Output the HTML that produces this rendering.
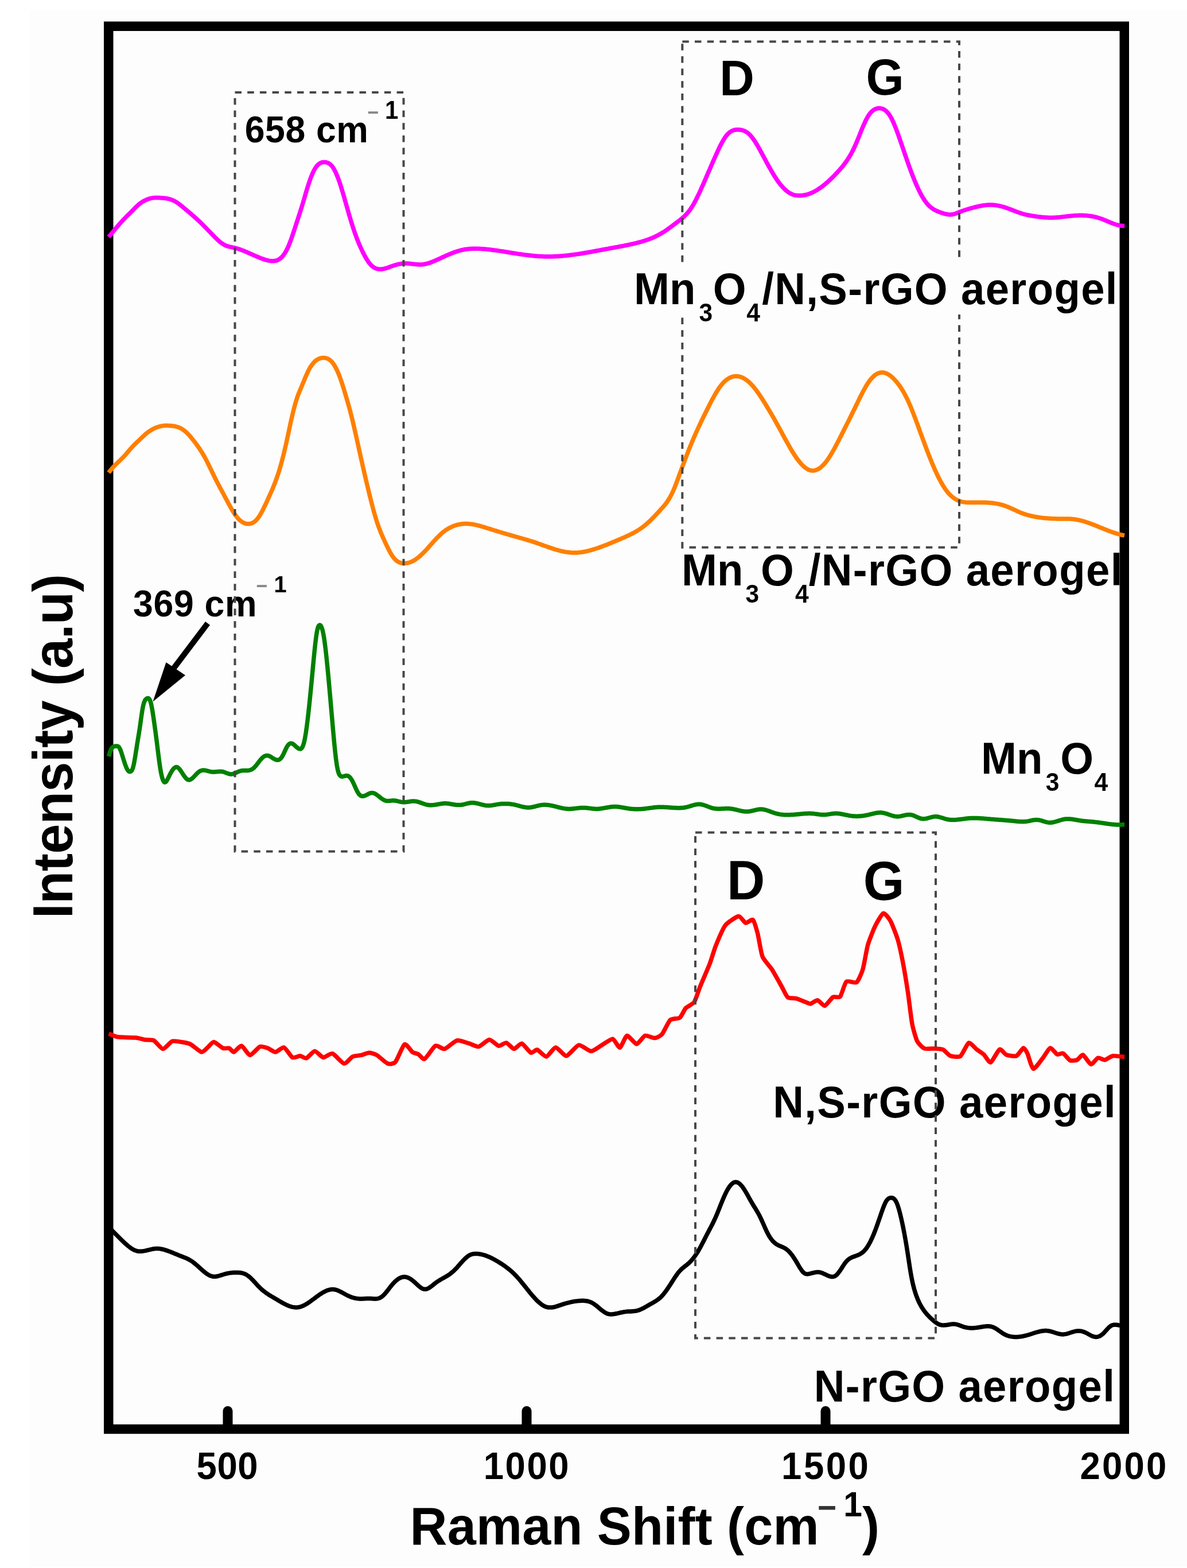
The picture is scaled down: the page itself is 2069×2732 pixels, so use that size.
<!DOCTYPE html>
<html><head><meta charset="utf-8"><title>Raman spectra</title>
<style>html,body{margin:0;padding:0;background:#fff;}svg{display:block;}text{font-family:'Liberation Sans',Arial,Helvetica,sans-serif;font-weight:bold}</style>
</head><body>
<svg width="2069" height="2732" viewBox="0 0 2069 2732">
<rect x="0" y="0" width="2069" height="2732" fill="#ffffff"/>
<rect x="51" y="18" width="2018" height="2712" fill="#fdfdfd"/>
<rect x="189.25" y="45.75" width="1770.5" height="2444.25" fill="none" stroke="#000" stroke-width="16.5" stroke-linejoin="miter"/>
<line x1="397" y1="2485" x2="397" y2="2458.5" stroke="#000" stroke-width="17" stroke-linecap="round"/>
<line x1="918" y1="2485" x2="918" y2="2458.5" stroke="#000" stroke-width="17" stroke-linecap="round"/>
<line x1="1439" y1="2485" x2="1439" y2="2458.5" stroke="#000" stroke-width="17" stroke-linecap="round"/>
<path d="M189.5,413.0 L191.0,411.1 L192.5,409.2 L194.0,407.4 L195.5,405.5 L197.0,403.7 L198.5,401.9 L200.0,400.0 L201.5,398.2 L203.0,396.5 L204.5,394.7 L206.0,393.0 L207.5,391.2 L209.0,389.5 L210.5,387.8 L212.0,386.2 L213.5,384.5 L215.0,382.9 L216.5,381.3 L218.0,379.8 L219.5,378.3 L221.0,376.7 L222.5,375.2 L224.0,373.8 L225.5,372.3 L227.0,370.8 L228.5,369.3 L230.0,367.8 L231.5,366.3 L233.0,364.8 L234.5,363.2 L236.0,361.7 L237.5,360.3 L239.0,358.8 L240.5,357.5 L242.0,356.2 L243.5,355.0 L245.0,353.8 L246.5,352.8 L248.0,351.8 L249.5,350.9 L251.0,350.1 L252.5,349.3 L254.0,348.6 L255.5,347.9 L257.0,347.3 L258.5,346.7 L260.0,346.2 L261.5,345.8 L263.0,345.4 L264.5,345.1 L266.0,344.9 L267.5,344.7 L269.0,344.6 L270.5,344.5 L272.0,344.5 L273.5,344.5 L275.0,344.5 L276.5,344.5 L278.0,344.6 L279.5,344.7 L281.0,344.8 L282.5,344.9 L284.0,345.0 L285.5,345.1 L287.0,345.3 L288.5,345.5 L290.0,345.7 L291.5,346.0 L293.0,346.3 L294.5,346.7 L296.0,347.1 L297.5,347.5 L299.0,348.1 L300.5,348.6 L302.0,349.3 L303.5,350.0 L305.0,350.8 L306.5,351.6 L308.0,352.6 L309.5,353.6 L311.0,354.6 L312.5,355.8 L314.0,356.9 L315.5,358.1 L317.0,359.3 L318.5,360.6 L320.0,361.8 L321.5,363.1 L323.0,364.3 L324.5,365.6 L326.0,366.9 L327.5,368.1 L329.0,369.4 L330.5,370.6 L332.0,371.9 L333.5,373.2 L335.0,374.5 L336.5,375.8 L338.0,377.1 L339.5,378.4 L341.0,379.8 L342.5,381.1 L344.0,382.5 L345.5,383.9 L347.0,385.3 L348.5,386.7 L350.0,388.2 L351.5,389.6 L353.0,391.1 L354.5,392.6 L356.0,394.1 L357.5,395.7 L359.0,397.2 L360.5,398.7 L362.0,400.3 L363.5,401.8 L365.0,403.4 L366.5,404.9 L368.0,406.5 L369.5,408.0 L371.0,409.6 L372.5,411.1 L374.0,412.7 L375.5,414.2 L377.0,415.6 L378.5,417.0 L380.0,418.4 L381.5,419.8 L383.0,421.0 L384.5,422.3 L386.0,423.4 L387.5,424.4 L389.0,425.4 L390.5,426.3 L392.0,427.1 L393.5,427.8 L395.0,428.4 L396.5,428.9 L398.0,429.4 L399.5,429.8 L401.0,430.1 L402.5,430.4 L404.0,430.8 L405.5,431.1 L407.0,431.4 L408.5,431.7 L410.0,432.1 L411.5,432.5 L413.0,432.9 L414.5,433.3 L416.0,433.8 L417.5,434.3 L419.0,434.8 L420.5,435.4 L422.0,436.0 L423.5,436.5 L425.0,437.1 L426.5,437.8 L428.0,438.4 L429.5,439.0 L431.0,439.7 L432.5,440.3 L434.0,441.0 L435.5,441.6 L437.0,442.3 L438.5,443.0 L440.0,443.6 L441.5,444.3 L443.0,445.0 L444.5,445.6 L446.0,446.3 L447.5,446.9 L449.0,447.5 L450.5,448.2 L452.0,448.8 L453.5,449.4 L455.0,450.0 L456.5,450.5 L458.0,451.1 L459.5,451.6 L461.0,452.1 L462.5,452.6 L464.0,453.0 L465.5,453.4 L467.0,453.8 L468.5,454.1 L470.0,454.4 L471.5,454.6 L473.0,454.7 L474.5,454.8 L476.0,454.8 L477.5,454.7 L479.0,454.5 L480.5,454.3 L482.0,453.9 L483.5,453.3 L485.0,452.6 L486.5,451.8 L488.0,450.7 L489.5,449.5 L491.0,448.1 L492.5,446.5 L494.0,444.6 L495.5,442.6 L497.0,440.2 L498.5,437.7 L500.0,434.8 L501.5,431.7 L503.0,428.4 L504.5,424.7 L506.0,420.8 L507.5,416.7 L509.0,412.4 L510.5,408.0 L512.0,403.5 L513.5,398.9 L515.0,394.3 L516.5,389.7 L518.0,385.2 L519.5,380.6 L521.0,376.0 L522.5,371.4 L524.0,366.7 L525.5,361.9 L527.0,357.0 L528.5,352.0 L530.0,346.9 L531.5,341.7 L533.0,336.6 L534.5,331.6 L536.0,326.6 L537.5,321.9 L539.0,317.3 L540.5,313.0 L542.0,309.0 L543.5,305.2 L545.0,301.7 L546.5,298.5 L548.0,295.6 L549.5,293.0 L551.0,290.8 L552.5,288.9 L554.0,287.3 L555.5,285.9 L557.0,284.8 L558.5,284.0 L560.0,283.4 L561.5,282.9 L563.0,282.7 L564.5,282.6 L566.0,282.6 L567.5,282.7 L569.0,283.0 L570.5,283.4 L572.0,284.0 L573.5,284.8 L575.0,285.8 L576.5,287.1 L578.0,288.7 L579.5,290.5 L581.0,292.7 L582.5,295.2 L584.0,298.1 L585.5,301.2 L587.0,304.7 L588.5,308.4 L590.0,312.4 L591.5,316.6 L593.0,321.0 L594.5,325.7 L596.0,330.6 L597.5,335.6 L599.0,340.7 L600.5,345.9 L602.0,351.2 L603.5,356.5 L605.0,361.8 L606.5,367.1 L608.0,372.3 L609.5,377.4 L611.0,382.5 L612.5,387.4 L614.0,392.2 L615.5,396.9 L617.0,401.4 L618.5,405.8 L620.0,409.9 L621.5,414.0 L623.0,417.9 L624.5,421.6 L626.0,425.2 L627.5,428.7 L629.0,432.0 L630.5,435.3 L632.0,438.4 L633.5,441.5 L635.0,444.4 L636.5,447.1 L638.0,449.8 L639.5,452.2 L641.0,454.6 L642.5,456.7 L644.0,458.7 L645.5,460.5 L647.0,462.1 L648.5,463.5 L650.0,464.7 L651.5,465.8 L653.0,466.7 L654.5,467.4 L656.0,468.0 L657.5,468.4 L659.0,468.8 L660.5,469.0 L662.0,469.1 L663.5,469.1 L665.0,469.0 L666.5,468.8 L668.0,468.6 L669.5,468.2 L671.0,467.9 L672.5,467.4 L674.0,467.0 L675.5,466.5 L677.0,466.0 L678.5,465.4 L680.0,464.9 L681.5,464.3 L683.0,463.8 L684.5,463.3 L686.0,462.8 L687.5,462.3 L689.0,461.8 L690.5,461.4 L692.0,461.0 L693.5,460.6 L695.0,460.3 L696.5,459.9 L698.0,459.7 L699.5,459.4 L701.0,459.2 L702.5,459.1 L704.0,459.0 L705.5,458.9 L707.0,458.9 L708.5,459.0 L710.0,459.0 L711.5,459.1 L713.0,459.2 L714.5,459.4 L716.0,459.5 L717.5,459.7 L719.0,459.9 L720.5,460.1 L722.0,460.2 L723.5,460.4 L725.0,460.5 L726.5,460.7 L728.0,460.8 L729.5,460.8 L731.0,460.9 L732.5,460.9 L734.0,460.9 L735.5,460.8 L737.0,460.7 L738.5,460.5 L740.0,460.2 L741.5,460.0 L743.0,459.6 L744.5,459.2 L746.0,458.8 L747.5,458.4 L749.0,457.9 L750.5,457.4 L752.0,456.8 L753.5,456.2 L755.0,455.6 L756.5,455.0 L758.0,454.4 L759.5,453.7 L761.0,453.0 L762.5,452.4 L764.0,451.7 L765.5,451.0 L767.0,450.3 L768.5,449.6 L770.0,448.9 L771.5,448.2 L773.0,447.5 L774.5,446.8 L776.0,446.1 L777.5,445.5 L779.0,444.8 L780.5,444.2 L782.0,443.5 L783.5,442.9 L785.0,442.3 L786.5,441.7 L788.0,441.1 L789.5,440.5 L791.0,439.9 L792.5,439.4 L794.0,438.9 L795.5,438.4 L797.0,437.9 L798.5,437.4 L800.0,437.0 L801.5,436.5 L803.0,436.1 L804.5,435.8 L806.0,435.4 L807.5,435.1 L809.0,434.8 L810.5,434.5 L812.0,434.3 L813.5,434.1 L815.0,433.9 L816.5,433.8 L818.0,433.6 L819.5,433.5 L821.0,433.4 L822.5,433.3 L824.0,433.3 L825.5,433.2 L827.0,433.2 L828.5,433.2 L830.0,433.2 L831.5,433.2 L833.0,433.3 L834.5,433.3 L836.0,433.4 L837.5,433.5 L839.0,433.6 L840.5,433.7 L842.0,433.8 L843.5,433.9 L845.0,434.0 L846.5,434.1 L848.0,434.3 L849.5,434.4 L851.0,434.6 L852.5,434.7 L854.0,434.9 L855.5,435.1 L857.0,435.3 L858.5,435.5 L860.0,435.7 L861.5,435.9 L863.0,436.1 L864.5,436.3 L866.0,436.5 L867.5,436.7 L869.0,436.9 L870.5,437.1 L872.0,437.4 L873.5,437.6 L875.0,437.8 L876.5,438.1 L878.0,438.3 L879.5,438.6 L881.0,438.8 L882.5,439.0 L884.0,439.3 L885.5,439.5 L887.0,439.8 L888.5,440.0 L890.0,440.2 L891.5,440.5 L893.0,440.7 L894.5,441.0 L896.0,441.2 L897.5,441.4 L899.0,441.7 L900.5,441.9 L902.0,442.1 L903.5,442.4 L905.0,442.6 L906.5,442.8 L908.0,443.0 L909.5,443.3 L911.0,443.5 L912.5,443.7 L914.0,443.9 L915.5,444.1 L917.0,444.3 L918.5,444.5 L920.0,444.6 L921.5,444.8 L923.0,445.0 L924.5,445.2 L926.0,445.3 L927.5,445.5 L929.0,445.6 L930.5,445.8 L932.0,445.9 L933.5,446.0 L935.0,446.2 L936.5,446.3 L938.0,446.4 L939.5,446.5 L941.0,446.6 L942.5,446.6 L944.0,446.7 L945.5,446.8 L947.0,446.8 L948.5,446.9 L950.0,446.9 L951.5,447.0 L953.0,447.0 L954.5,447.0 L956.0,447.0 L957.5,447.0 L959.0,447.0 L960.5,447.0 L962.0,446.9 L963.5,446.9 L965.0,446.8 L966.5,446.8 L968.0,446.7 L969.5,446.6 L971.0,446.6 L972.5,446.5 L974.0,446.4 L975.5,446.3 L977.0,446.2 L978.5,446.0 L980.0,445.9 L981.5,445.8 L983.0,445.6 L984.5,445.5 L986.0,445.4 L987.5,445.2 L989.0,445.0 L990.5,444.9 L992.0,444.7 L993.5,444.5 L995.0,444.3 L996.5,444.1 L998.0,443.9 L999.5,443.7 L1001.0,443.5 L1002.5,443.3 L1004.0,443.1 L1005.5,442.9 L1007.0,442.7 L1008.5,442.4 L1010.0,442.2 L1011.5,442.0 L1013.0,441.7 L1014.5,441.5 L1016.0,441.2 L1017.5,441.0 L1019.0,440.8 L1020.5,440.5 L1022.0,440.2 L1023.5,440.0 L1025.0,439.7 L1026.5,439.5 L1028.0,439.2 L1029.5,438.9 L1031.0,438.7 L1032.5,438.4 L1034.0,438.1 L1035.5,437.8 L1037.0,437.6 L1038.5,437.3 L1040.0,437.0 L1041.5,436.7 L1043.0,436.4 L1044.5,436.2 L1046.0,435.9 L1047.5,435.6 L1049.0,435.3 L1050.5,435.0 L1052.0,434.8 L1053.5,434.5 L1055.0,434.2 L1056.5,433.9 L1058.0,433.6 L1059.5,433.4 L1061.0,433.1 L1062.5,432.8 L1064.0,432.5 L1065.5,432.3 L1067.0,432.0 L1068.5,431.7 L1070.0,431.5 L1071.5,431.2 L1073.0,430.9 L1074.5,430.6 L1076.0,430.4 L1077.5,430.1 L1079.0,429.8 L1080.5,429.5 L1082.0,429.3 L1083.5,429.0 L1085.0,428.7 L1086.5,428.4 L1088.0,428.1 L1089.5,427.8 L1091.0,427.5 L1092.5,427.2 L1094.0,426.9 L1095.5,426.6 L1097.0,426.3 L1098.5,425.9 L1100.0,425.6 L1101.5,425.3 L1103.0,424.9 L1104.5,424.6 L1106.0,424.2 L1107.5,423.9 L1109.0,423.5 L1110.5,423.1 L1112.0,422.7 L1113.5,422.3 L1115.0,421.9 L1116.5,421.5 L1118.0,421.1 L1119.5,420.7 L1121.0,420.2 L1122.5,419.8 L1124.0,419.3 L1125.5,418.8 L1127.0,418.3 L1128.5,417.8 L1130.0,417.2 L1131.5,416.7 L1133.0,416.1 L1134.5,415.5 L1136.0,414.9 L1137.5,414.3 L1139.0,413.6 L1140.5,412.9 L1142.0,412.3 L1143.5,411.5 L1145.0,410.8 L1146.5,410.0 L1148.0,409.2 L1149.5,408.4 L1151.0,407.6 L1152.5,406.7 L1154.0,405.8 L1155.5,404.9 L1157.0,404.0 L1158.5,403.0 L1160.0,402.0 L1161.5,401.0 L1163.0,399.9 L1164.5,398.9 L1166.0,397.8 L1167.5,396.7 L1169.0,395.6 L1170.5,394.5 L1172.0,393.4 L1173.5,392.2 L1175.0,391.1 L1176.5,390.0 L1178.0,388.8 L1179.5,387.7 L1181.0,386.5 L1182.5,385.4 L1184.0,384.3 L1185.5,383.1 L1187.0,381.9 L1188.5,380.7 L1190.0,379.4 L1191.5,378.1 L1193.0,376.7 L1194.5,375.2 L1196.0,373.7 L1197.5,372.0 L1199.0,370.3 L1200.5,368.4 L1202.0,366.5 L1203.5,364.4 L1205.0,362.2 L1206.5,359.8 L1208.0,357.4 L1209.5,354.8 L1211.0,352.0 L1212.5,349.2 L1214.0,346.3 L1215.5,343.3 L1217.0,340.2 L1218.5,337.0 L1220.0,333.8 L1221.5,330.5 L1223.0,327.1 L1224.5,323.8 L1226.0,320.4 L1227.5,316.9 L1229.0,313.5 L1230.5,310.0 L1232.0,306.6 L1233.5,303.1 L1235.0,299.6 L1236.5,296.2 L1238.0,292.7 L1239.5,289.2 L1241.0,285.8 L1242.5,282.3 L1244.0,278.9 L1245.5,275.5 L1247.0,272.2 L1248.5,268.9 L1250.0,265.6 L1251.5,262.3 L1253.0,259.1 L1254.5,256.0 L1256.0,253.0 L1257.5,250.1 L1259.0,247.4 L1260.5,244.7 L1262.0,242.2 L1263.5,239.9 L1265.0,237.8 L1266.5,235.8 L1268.0,234.1 L1269.5,232.5 L1271.0,231.2 L1272.5,230.0 L1274.0,229.0 L1275.5,228.2 L1277.0,227.5 L1278.5,227.0 L1280.0,226.5 L1281.5,226.2 L1283.0,226.0 L1284.5,225.9 L1286.0,225.9 L1287.5,225.9 L1289.0,226.0 L1290.5,226.2 L1292.0,226.4 L1293.5,226.8 L1295.0,227.2 L1296.5,227.7 L1298.0,228.4 L1299.5,229.1 L1301.0,230.0 L1302.5,231.0 L1304.0,232.2 L1305.5,233.4 L1307.0,234.9 L1308.5,236.5 L1310.0,238.3 L1311.5,240.2 L1313.0,242.2 L1314.5,244.3 L1316.0,246.6 L1317.5,249.0 L1319.0,251.4 L1320.5,254.0 L1322.0,256.6 L1323.5,259.2 L1325.0,261.9 L1326.5,264.7 L1328.0,267.4 L1329.5,270.2 L1331.0,273.0 L1332.5,275.8 L1334.0,278.6 L1335.5,281.4 L1337.0,284.2 L1338.5,286.9 L1340.0,289.6 L1341.5,292.3 L1343.0,295.0 L1344.5,297.6 L1346.0,300.2 L1347.5,302.7 L1349.0,305.2 L1350.5,307.6 L1352.0,309.9 L1353.5,312.2 L1355.0,314.4 L1356.5,316.5 L1358.0,318.5 L1359.5,320.5 L1361.0,322.3 L1362.5,324.1 L1364.0,325.8 L1365.5,327.4 L1367.0,328.9 L1368.5,330.4 L1370.0,331.7 L1371.5,332.9 L1373.0,334.1 L1374.5,335.2 L1376.0,336.1 L1377.5,337.0 L1379.0,337.7 L1380.5,338.4 L1382.0,339.0 L1383.5,339.5 L1385.0,339.9 L1386.5,340.2 L1388.0,340.4 L1389.5,340.6 L1391.0,340.7 L1392.5,340.8 L1394.0,340.8 L1395.5,340.8 L1397.0,340.7 L1398.5,340.5 L1400.0,340.3 L1401.5,340.1 L1403.0,339.8 L1404.5,339.5 L1406.0,339.1 L1407.5,338.7 L1409.0,338.2 L1410.5,337.7 L1412.0,337.1 L1413.5,336.5 L1415.0,335.9 L1416.5,335.2 L1418.0,334.5 L1419.5,333.7 L1421.0,332.9 L1422.5,332.0 L1424.0,331.1 L1425.5,330.2 L1427.0,329.2 L1428.5,328.2 L1430.0,327.2 L1431.5,326.1 L1433.0,325.0 L1434.5,323.8 L1436.0,322.6 L1437.5,321.4 L1439.0,320.2 L1440.5,318.9 L1442.0,317.6 L1443.5,316.2 L1445.0,314.8 L1446.5,313.4 L1448.0,312.0 L1449.5,310.6 L1451.0,309.1 L1452.5,307.6 L1454.0,306.1 L1455.5,304.5 L1457.0,302.9 L1458.5,301.4 L1460.0,299.8 L1461.5,298.1 L1463.0,296.5 L1464.5,294.8 L1466.0,293.1 L1467.5,291.3 L1469.0,289.5 L1470.5,287.6 L1472.0,285.6 L1473.5,283.6 L1475.0,281.5 L1476.5,279.3 L1478.0,277.1 L1479.5,274.7 L1481.0,272.2 L1482.5,269.7 L1484.0,267.0 L1485.5,264.1 L1487.0,261.2 L1488.5,258.1 L1490.0,254.9 L1491.5,251.5 L1493.0,248.0 L1494.5,244.5 L1496.0,240.8 L1497.5,237.1 L1499.0,233.3 L1500.5,229.6 L1502.0,225.9 L1503.5,222.3 L1505.0,218.8 L1506.5,215.4 L1508.0,212.1 L1509.5,209.0 L1511.0,206.1 L1512.5,203.5 L1514.0,201.1 L1515.5,198.9 L1517.0,197.0 L1518.5,195.3 L1520.0,193.9 L1521.5,192.6 L1523.0,191.5 L1524.5,190.6 L1526.0,189.9 L1527.5,189.4 L1529.0,189.0 L1530.5,188.7 L1532.0,188.6 L1533.5,188.6 L1535.0,188.8 L1536.5,189.1 L1538.0,189.5 L1539.5,190.1 L1541.0,190.9 L1542.5,191.9 L1544.0,193.0 L1545.5,194.4 L1547.0,196.0 L1548.5,197.8 L1550.0,199.8 L1551.5,202.1 L1553.0,204.7 L1554.5,207.5 L1556.0,210.6 L1557.5,213.9 L1559.0,217.4 L1560.5,221.1 L1562.0,224.9 L1563.5,228.9 L1565.0,233.0 L1566.5,237.1 L1568.0,241.4 L1569.5,245.7 L1571.0,250.1 L1572.5,254.5 L1574.0,258.9 L1575.5,263.3 L1577.0,267.7 L1578.5,272.0 L1580.0,276.4 L1581.5,280.7 L1583.0,284.9 L1584.5,289.2 L1586.0,293.3 L1587.5,297.4 L1589.0,301.4 L1590.5,305.3 L1592.0,309.2 L1593.5,312.9 L1595.0,316.5 L1596.5,320.1 L1598.0,323.5 L1599.5,326.8 L1601.0,330.0 L1602.5,333.1 L1604.0,336.1 L1605.5,338.9 L1607.0,341.6 L1608.5,344.2 L1610.0,346.6 L1611.5,348.9 L1613.0,351.1 L1614.5,353.1 L1616.0,354.9 L1617.5,356.6 L1619.0,358.2 L1620.5,359.6 L1622.0,360.9 L1623.5,362.1 L1625.0,363.2 L1626.5,364.2 L1628.0,365.1 L1629.5,366.0 L1631.0,366.7 L1632.5,367.4 L1634.0,368.1 L1635.5,368.7 L1637.0,369.3 L1638.5,369.8 L1640.0,370.4 L1641.5,370.9 L1643.0,371.4 L1644.5,371.9 L1646.0,372.3 L1647.5,372.7 L1649.0,373.0 L1650.5,373.3 L1652.0,373.6 L1653.5,373.8 L1655.0,373.9 L1656.5,373.9 L1658.0,373.8 L1659.5,373.7 L1661.0,373.4 L1662.5,373.1 L1664.0,372.7 L1665.5,372.2 L1667.0,371.6 L1668.5,371.0 L1670.0,370.4 L1671.5,369.8 L1673.0,369.2 L1674.5,368.6 L1676.0,368.1 L1677.5,367.5 L1679.0,367.0 L1680.5,366.5 L1682.0,366.0 L1683.5,365.5 L1685.0,365.0 L1686.5,364.6 L1688.0,364.1 L1689.5,363.7 L1691.0,363.2 L1692.5,362.8 L1694.0,362.4 L1695.5,362.0 L1697.0,361.6 L1698.5,361.2 L1700.0,360.8 L1701.5,360.5 L1703.0,360.1 L1704.5,359.8 L1706.0,359.4 L1707.5,359.1 L1709.0,358.8 L1710.5,358.5 L1712.0,358.3 L1713.5,358.0 L1715.0,357.8 L1716.5,357.6 L1718.0,357.4 L1719.5,357.3 L1721.0,357.2 L1722.5,357.1 L1724.0,357.0 L1725.5,357.0 L1727.0,357.0 L1728.5,357.0 L1730.0,357.1 L1731.5,357.2 L1733.0,357.3 L1734.5,357.5 L1736.0,357.7 L1737.5,357.9 L1739.0,358.1 L1740.5,358.4 L1742.0,358.7 L1743.5,359.1 L1745.0,359.4 L1746.5,359.8 L1748.0,360.2 L1749.5,360.7 L1751.0,361.1 L1752.5,361.6 L1754.0,362.1 L1755.5,362.6 L1757.0,363.2 L1758.5,363.7 L1760.0,364.3 L1761.5,364.9 L1763.0,365.4 L1764.5,366.0 L1766.0,366.6 L1767.5,367.2 L1769.0,367.8 L1770.5,368.3 L1772.0,368.9 L1773.5,369.5 L1775.0,370.0 L1776.5,370.5 L1778.0,371.1 L1779.5,371.5 L1781.0,372.0 L1782.5,372.5 L1784.0,372.9 L1785.5,373.3 L1787.0,373.7 L1788.5,374.0 L1790.0,374.4 L1791.5,374.7 L1793.0,375.0 L1794.5,375.3 L1796.0,375.6 L1797.5,375.8 L1799.0,376.1 L1800.5,376.3 L1802.0,376.6 L1803.5,376.8 L1805.0,377.0 L1806.5,377.2 L1808.0,377.4 L1809.5,377.6 L1811.0,377.8 L1812.5,378.0 L1814.0,378.1 L1815.5,378.3 L1817.0,378.4 L1818.5,378.6 L1820.0,378.7 L1821.5,378.8 L1823.0,378.9 L1824.5,379.0 L1826.0,379.1 L1827.5,379.2 L1829.0,379.2 L1830.5,379.2 L1832.0,379.3 L1833.5,379.2 L1835.0,379.2 L1836.5,379.2 L1838.0,379.1 L1839.5,379.0 L1841.0,378.9 L1842.5,378.8 L1844.0,378.7 L1845.5,378.6 L1847.0,378.4 L1848.5,378.3 L1850.0,378.1 L1851.5,377.9 L1853.0,377.7 L1854.5,377.6 L1856.0,377.4 L1857.5,377.2 L1859.0,377.0 L1860.5,376.8 L1862.0,376.7 L1863.5,376.5 L1865.0,376.4 L1866.5,376.2 L1868.0,376.1 L1869.5,375.9 L1871.0,375.8 L1872.5,375.7 L1874.0,375.6 L1875.5,375.5 L1877.0,375.4 L1878.5,375.4 L1880.0,375.3 L1881.5,375.3 L1883.0,375.3 L1884.5,375.3 L1886.0,375.3 L1887.5,375.3 L1889.0,375.4 L1890.5,375.4 L1892.0,375.5 L1893.5,375.6 L1895.0,375.8 L1896.5,375.9 L1898.0,376.1 L1899.5,376.3 L1901.0,376.5 L1902.5,376.8 L1904.0,377.0 L1905.5,377.3 L1907.0,377.6 L1908.5,378.0 L1910.0,378.3 L1911.5,378.7 L1913.0,379.1 L1914.5,379.5 L1916.0,380.0 L1917.5,380.5 L1919.0,381.0 L1920.5,381.5 L1922.0,382.1 L1923.5,382.7 L1925.0,383.3 L1926.5,383.9 L1928.0,384.5 L1929.5,385.2 L1931.0,385.8 L1932.5,386.4 L1934.0,387.0 L1935.5,387.7 L1937.0,388.3 L1938.5,388.9 L1940.0,389.4 L1941.5,390.0 L1943.0,390.5 L1944.5,391.0 L1946.0,391.4 L1947.5,391.9 L1949.0,392.3 L1950.5,392.6 L1952.0,392.9 L1953.5,393.1 L1955.0,393.3 L1956.5,393.4 L1958.0,393.5 L1959.5,393.5 L1960.0,393.5" fill="none" stroke="#ff00ff" stroke-width="7.5" stroke-linejoin="round" stroke-linecap="butt"/>
<path d="M189.5,823.5 L191.0,821.5 L192.5,819.6 L194.0,817.7 L195.5,816.0 L197.0,814.3 L198.5,812.7 L200.0,811.1 L201.5,809.6 L203.0,808.1 L204.5,806.7 L206.0,805.2 L207.5,803.8 L209.0,802.4 L210.5,800.9 L212.0,799.4 L213.5,797.9 L215.0,796.4 L216.5,794.8 L218.0,793.2 L219.5,791.5 L221.0,789.7 L222.5,787.9 L224.0,786.1 L225.5,784.4 L227.0,782.6 L228.5,780.9 L230.0,779.2 L231.5,777.6 L233.0,776.1 L234.5,774.6 L236.0,773.1 L237.5,771.7 L239.0,770.3 L240.5,768.9 L242.0,767.5 L243.5,766.0 L245.0,764.6 L246.5,763.1 L248.0,761.7 L249.5,760.3 L251.0,758.9 L252.5,757.5 L254.0,756.2 L255.5,754.9 L257.0,753.8 L258.5,752.6 L260.0,751.6 L261.5,750.6 L263.0,749.7 L264.5,748.8 L266.0,747.9 L267.5,747.2 L269.0,746.4 L270.5,745.7 L272.0,745.1 L273.5,744.5 L275.0,744.0 L276.5,743.5 L278.0,743.1 L279.5,742.7 L281.0,742.4 L282.5,742.1 L284.0,741.9 L285.5,741.7 L287.0,741.6 L288.5,741.6 L290.0,741.6 L291.5,741.6 L293.0,741.6 L294.5,741.7 L296.0,741.7 L297.5,741.8 L299.0,742.0 L300.5,742.1 L302.0,742.3 L303.5,742.5 L305.0,742.8 L306.5,743.1 L308.0,743.5 L309.5,744.0 L311.0,744.5 L312.5,745.1 L314.0,745.7 L315.5,746.5 L317.0,747.3 L318.5,748.3 L320.0,749.3 L321.5,750.5 L323.0,751.7 L324.5,753.1 L326.0,754.5 L327.5,756.0 L329.0,757.6 L330.5,759.3 L332.0,761.0 L333.5,762.8 L335.0,764.6 L336.5,766.5 L338.0,768.4 L339.5,770.3 L341.0,772.3 L342.5,774.3 L344.0,776.4 L345.5,778.5 L347.0,780.6 L348.5,782.9 L350.0,785.2 L351.5,787.5 L353.0,790.0 L354.5,792.5 L356.0,795.1 L357.5,797.8 L359.0,800.7 L360.5,803.6 L362.0,806.5 L363.5,809.5 L365.0,812.6 L366.5,815.7 L368.0,818.8 L369.5,821.9 L371.0,825.0 L372.5,828.1 L374.0,831.2 L375.5,834.2 L377.0,837.2 L378.5,840.1 L380.0,843.0 L381.5,845.8 L383.0,848.7 L384.5,851.5 L386.0,854.3 L387.5,857.1 L389.0,859.8 L390.5,862.6 L392.0,865.4 L393.5,868.2 L395.0,871.0 L396.5,873.8 L398.0,876.7 L399.5,879.4 L401.0,882.2 L402.5,884.9 L404.0,887.5 L405.5,890.1 L407.0,892.5 L408.5,894.8 L410.0,897.1 L411.5,899.1 L413.0,901.1 L414.5,902.8 L416.0,904.5 L417.5,905.9 L419.0,907.2 L420.5,908.4 L422.0,909.4 L423.5,910.3 L425.0,911.1 L426.5,911.7 L428.0,912.2 L429.5,912.5 L431.0,912.7 L432.5,912.8 L434.0,912.8 L435.5,912.6 L437.0,912.3 L438.5,911.8 L440.0,911.2 L441.5,910.4 L443.0,909.4 L444.5,908.2 L446.0,906.9 L447.5,905.3 L449.0,903.5 L450.5,901.5 L452.0,899.3 L453.5,896.9 L455.0,894.3 L456.5,891.6 L458.0,888.7 L459.5,885.7 L461.0,882.6 L462.5,879.5 L464.0,876.3 L465.5,873.0 L467.0,869.7 L468.5,866.4 L470.0,863.1 L471.5,859.8 L473.0,856.4 L474.5,853.0 L476.0,849.4 L477.5,845.8 L479.0,842.0 L480.5,838.0 L482.0,833.9 L483.5,829.6 L485.0,825.1 L486.5,820.4 L488.0,815.4 L489.5,810.2 L491.0,804.7 L492.5,799.0 L494.0,793.1 L495.5,787.0 L497.0,780.6 L498.5,774.0 L500.0,767.3 L501.5,760.3 L503.0,753.3 L504.5,746.2 L506.0,739.3 L507.5,732.4 L509.0,725.8 L510.5,719.5 L512.0,713.4 L513.5,707.7 L515.0,702.3 L516.5,697.4 L518.0,692.8 L519.5,688.6 L521.0,684.7 L522.5,681.1 L524.0,677.5 L525.5,674.0 L527.0,670.4 L528.5,666.7 L530.0,663.1 L531.5,659.4 L533.0,655.8 L534.5,652.4 L536.0,649.1 L537.5,646.0 L539.0,643.1 L540.5,640.5 L542.0,638.1 L543.5,635.9 L545.0,633.9 L546.5,632.2 L548.0,630.6 L549.5,629.2 L551.0,627.9 L552.5,626.9 L554.0,626.0 L555.5,625.2 L557.0,624.6 L558.5,624.2 L560.0,623.8 L561.5,623.6 L563.0,623.5 L564.5,623.5 L566.0,623.6 L567.5,623.8 L569.0,624.2 L570.5,624.7 L572.0,625.4 L573.5,626.2 L575.0,627.3 L576.5,628.6 L578.0,630.0 L579.5,631.8 L581.0,633.7 L582.5,636.0 L584.0,638.5 L585.5,641.2 L587.0,644.2 L588.5,647.4 L590.0,650.9 L591.5,654.7 L593.0,658.8 L594.5,663.0 L596.0,667.5 L597.5,672.1 L599.0,676.9 L600.5,681.8 L602.0,686.8 L603.5,691.9 L605.0,697.0 L606.5,702.2 L608.0,707.6 L609.5,713.1 L611.0,718.8 L612.5,724.6 L614.0,730.7 L615.5,736.9 L617.0,743.3 L618.5,749.8 L620.0,756.5 L621.5,763.2 L623.0,770.0 L624.5,776.8 L626.0,783.6 L627.5,790.3 L629.0,797.1 L630.5,803.8 L632.0,810.5 L633.5,817.1 L635.0,823.7 L636.5,830.2 L638.0,836.6 L639.5,843.0 L641.0,849.2 L642.5,855.4 L644.0,861.6 L645.5,867.6 L647.0,873.6 L648.5,879.4 L650.0,885.1 L651.5,890.7 L653.0,896.1 L654.5,901.2 L656.0,906.1 L657.5,910.8 L659.0,915.2 L660.5,919.3 L662.0,923.2 L663.5,927.0 L665.0,930.6 L666.5,934.1 L668.0,937.5 L669.5,940.8 L671.0,944.0 L672.5,947.3 L674.0,950.5 L675.5,953.6 L677.0,956.6 L678.5,959.5 L680.0,962.3 L681.5,964.9 L683.0,967.4 L684.5,969.6 L686.0,971.6 L687.5,973.4 L689.0,975.0 L690.5,976.4 L692.0,977.5 L693.5,978.5 L695.0,979.4 L696.5,980.0 L698.0,980.6 L699.5,981.0 L701.0,981.3 L702.5,981.4 L704.0,981.5 L705.5,981.5 L707.0,981.4 L708.5,981.3 L710.0,981.0 L711.5,980.7 L713.0,980.3 L714.5,979.8 L716.0,979.2 L717.5,978.6 L719.0,977.9 L720.5,977.1 L722.0,976.2 L723.5,975.3 L725.0,974.3 L726.5,973.2 L728.0,972.1 L729.5,970.9 L731.0,969.7 L732.5,968.4 L734.0,967.0 L735.5,965.6 L737.0,964.2 L738.5,962.7 L740.0,961.2 L741.5,959.6 L743.0,958.0 L744.5,956.4 L746.0,954.7 L747.5,953.0 L749.0,951.3 L750.5,949.6 L752.0,947.9 L753.5,946.2 L755.0,944.5 L756.5,942.8 L758.0,941.2 L759.5,939.5 L761.0,937.9 L762.5,936.3 L764.0,934.8 L765.5,933.3 L767.0,931.9 L768.5,930.5 L770.0,929.2 L771.5,927.9 L773.0,926.7 L774.5,925.5 L776.0,924.4 L777.5,923.4 L779.0,922.4 L780.5,921.5 L782.0,920.6 L783.5,919.8 L785.0,919.0 L786.5,918.3 L788.0,917.6 L789.5,916.9 L791.0,916.4 L792.5,915.8 L794.0,915.3 L795.5,914.9 L797.0,914.4 L798.5,914.1 L800.0,913.7 L801.5,913.5 L803.0,913.2 L804.5,913.0 L806.0,912.8 L807.5,912.7 L809.0,912.6 L810.5,912.5 L812.0,912.5 L813.5,912.5 L815.0,912.6 L816.5,912.7 L818.0,912.8 L819.5,912.9 L821.0,913.1 L822.5,913.3 L824.0,913.5 L825.5,913.8 L827.0,914.1 L828.5,914.4 L830.0,914.7 L831.5,915.1 L833.0,915.4 L834.5,915.8 L836.0,916.2 L837.5,916.6 L839.0,917.1 L840.5,917.5 L842.0,917.9 L843.5,918.4 L845.0,918.8 L846.5,919.3 L848.0,919.8 L849.5,920.2 L851.0,920.7 L852.5,921.2 L854.0,921.6 L855.5,922.1 L857.0,922.6 L858.5,923.0 L860.0,923.5 L861.5,924.0 L863.0,924.4 L864.5,924.9 L866.0,925.4 L867.5,925.8 L869.0,926.3 L870.5,926.7 L872.0,927.2 L873.5,927.6 L875.0,928.1 L876.5,928.5 L878.0,929.0 L879.5,929.4 L881.0,929.9 L882.5,930.3 L884.0,930.8 L885.5,931.2 L887.0,931.6 L888.5,932.1 L890.0,932.5 L891.5,932.9 L893.0,933.4 L894.5,933.8 L896.0,934.2 L897.5,934.6 L899.0,935.1 L900.5,935.5 L902.0,935.9 L903.5,936.3 L905.0,936.8 L906.5,937.2 L908.0,937.6 L909.5,938.0 L911.0,938.5 L912.5,938.9 L914.0,939.3 L915.5,939.8 L917.0,940.2 L918.5,940.6 L920.0,941.1 L921.5,941.6 L923.0,942.0 L924.5,942.5 L926.0,942.9 L927.5,943.4 L929.0,943.9 L930.5,944.4 L932.0,944.9 L933.5,945.4 L935.0,945.9 L936.5,946.4 L938.0,947.0 L939.5,947.5 L941.0,948.0 L942.5,948.6 L944.0,949.1 L945.5,949.6 L947.0,950.2 L948.5,950.7 L950.0,951.3 L951.5,951.8 L953.0,952.3 L954.5,952.9 L956.0,953.4 L957.5,953.9 L959.0,954.4 L960.5,954.9 L962.0,955.4 L963.5,955.9 L965.0,956.4 L966.5,956.9 L968.0,957.3 L969.5,957.8 L971.0,958.2 L972.5,958.6 L974.0,959.0 L975.5,959.4 L977.0,959.8 L978.5,960.2 L980.0,960.5 L981.5,960.8 L983.0,961.1 L984.5,961.4 L986.0,961.7 L987.5,961.9 L989.0,962.1 L990.5,962.3 L992.0,962.5 L993.5,962.6 L995.0,962.8 L996.5,962.9 L998.0,963.0 L999.5,963.0 L1001.0,963.0 L1002.5,963.0 L1004.0,963.0 L1005.5,962.9 L1007.0,962.8 L1008.5,962.7 L1010.0,962.6 L1011.5,962.4 L1013.0,962.2 L1014.5,962.0 L1016.0,961.8 L1017.5,961.5 L1019.0,961.2 L1020.5,960.9 L1022.0,960.6 L1023.5,960.3 L1025.0,959.9 L1026.5,959.5 L1028.0,959.1 L1029.5,958.7 L1031.0,958.3 L1032.5,957.9 L1034.0,957.4 L1035.5,956.9 L1037.0,956.5 L1038.5,956.0 L1040.0,955.5 L1041.5,955.0 L1043.0,954.5 L1044.5,953.9 L1046.0,953.4 L1047.5,952.9 L1049.0,952.3 L1050.5,951.7 L1052.0,951.2 L1053.5,950.6 L1055.0,950.0 L1056.5,949.5 L1058.0,948.9 L1059.5,948.3 L1061.0,947.7 L1062.5,947.1 L1064.0,946.5 L1065.5,945.8 L1067.0,945.2 L1068.5,944.6 L1070.0,944.0 L1071.5,943.3 L1073.0,942.7 L1074.5,942.1 L1076.0,941.4 L1077.5,940.8 L1079.0,940.2 L1080.5,939.5 L1082.0,938.9 L1083.5,938.2 L1085.0,937.6 L1086.5,936.9 L1088.0,936.3 L1089.5,935.6 L1091.0,934.9 L1092.5,934.2 L1094.0,933.6 L1095.5,932.9 L1097.0,932.1 L1098.5,931.4 L1100.0,930.7 L1101.5,929.9 L1103.0,929.1 L1104.5,928.3 L1106.0,927.5 L1107.5,926.7 L1109.0,925.8 L1110.5,924.9 L1112.0,924.0 L1113.5,923.0 L1115.0,922.0 L1116.5,921.0 L1118.0,920.0 L1119.5,918.9 L1121.0,917.8 L1122.5,916.6 L1124.0,915.4 L1125.5,914.2 L1127.0,912.9 L1128.5,911.6 L1130.0,910.2 L1131.5,908.8 L1133.0,907.4 L1134.5,906.0 L1136.0,904.5 L1137.5,903.0 L1139.0,901.4 L1140.5,899.9 L1142.0,898.3 L1143.5,896.7 L1145.0,895.1 L1146.5,893.5 L1148.0,891.9 L1149.5,890.2 L1151.0,888.6 L1152.5,886.9 L1154.0,885.3 L1155.5,883.6 L1157.0,881.9 L1158.5,880.1 L1160.0,878.2 L1161.5,876.2 L1163.0,874.1 L1164.5,871.9 L1166.0,869.6 L1167.5,867.0 L1169.0,864.3 L1170.5,861.4 L1172.0,858.3 L1173.5,855.0 L1175.0,851.5 L1176.5,847.8 L1178.0,844.0 L1179.5,840.1 L1181.0,836.1 L1182.5,832.0 L1184.0,827.9 L1185.5,823.8 L1187.0,819.7 L1188.5,815.7 L1190.0,811.6 L1191.5,807.6 L1193.0,803.6 L1194.5,799.7 L1196.0,795.7 L1197.5,791.9 L1199.0,788.0 L1200.5,784.2 L1202.0,780.5 L1203.5,776.8 L1205.0,773.1 L1206.5,769.5 L1208.0,765.9 L1209.5,762.4 L1211.0,759.0 L1212.5,755.6 L1214.0,752.3 L1215.5,749.0 L1217.0,745.7 L1218.5,742.5 L1220.0,739.3 L1221.5,736.1 L1223.0,733.0 L1224.5,729.9 L1226.0,726.8 L1227.5,723.8 L1229.0,720.7 L1230.5,717.7 L1232.0,714.7 L1233.5,711.7 L1235.0,708.7 L1236.5,705.7 L1238.0,702.8 L1239.5,699.9 L1241.0,697.0 L1242.5,694.2 L1244.0,691.5 L1245.5,688.8 L1247.0,686.2 L1248.5,683.7 L1250.0,681.3 L1251.5,678.9 L1253.0,676.7 L1254.5,674.5 L1256.0,672.5 L1257.5,670.6 L1259.0,668.8 L1260.5,667.1 L1262.0,665.6 L1263.5,664.2 L1265.0,662.9 L1266.5,661.7 L1268.0,660.6 L1269.5,659.6 L1271.0,658.7 L1272.5,658.0 L1274.0,657.3 L1275.5,656.7 L1277.0,656.3 L1278.5,655.9 L1280.0,655.7 L1281.5,655.5 L1283.0,655.5 L1284.5,655.5 L1286.0,655.7 L1287.5,655.9 L1289.0,656.2 L1290.5,656.6 L1292.0,657.1 L1293.5,657.7 L1295.0,658.4 L1296.5,659.2 L1298.0,660.1 L1299.5,661.0 L1301.0,662.1 L1302.5,663.2 L1304.0,664.4 L1305.5,665.7 L1307.0,667.1 L1308.5,668.6 L1310.0,670.2 L1311.5,671.8 L1313.0,673.5 L1314.5,675.3 L1316.0,677.2 L1317.5,679.1 L1319.0,681.1 L1320.5,683.2 L1322.0,685.3 L1323.5,687.5 L1325.0,689.7 L1326.5,692.0 L1328.0,694.3 L1329.5,696.6 L1331.0,699.0 L1332.5,701.4 L1334.0,703.8 L1335.5,706.2 L1337.0,708.7 L1338.5,711.2 L1340.0,713.7 L1341.5,716.3 L1343.0,718.8 L1344.5,721.4 L1346.0,724.0 L1347.5,726.6 L1349.0,729.2 L1350.5,731.9 L1352.0,734.5 L1353.5,737.2 L1355.0,739.9 L1356.5,742.6 L1358.0,745.3 L1359.5,748.1 L1361.0,750.8 L1362.5,753.6 L1364.0,756.4 L1365.5,759.1 L1367.0,761.9 L1368.5,764.7 L1370.0,767.4 L1371.5,770.1 L1373.0,772.8 L1374.5,775.5 L1376.0,778.1 L1377.5,780.7 L1379.0,783.3 L1380.5,785.8 L1382.0,788.2 L1383.5,790.6 L1385.0,792.9 L1386.5,795.2 L1388.0,797.4 L1389.5,799.5 L1391.0,801.5 L1392.5,803.4 L1394.0,805.3 L1395.5,807.1 L1397.0,808.7 L1398.5,810.3 L1400.0,811.8 L1401.5,813.1 L1403.0,814.4 L1404.5,815.5 L1406.0,816.5 L1407.5,817.4 L1409.0,818.2 L1410.5,818.8 L1412.0,819.3 L1413.5,819.7 L1415.0,819.9 L1416.5,820.0 L1418.0,820.0 L1419.5,819.8 L1421.0,819.5 L1422.5,819.0 L1424.0,818.4 L1425.5,817.7 L1427.0,816.8 L1428.5,815.9 L1430.0,814.8 L1431.5,813.5 L1433.0,812.2 L1434.5,810.7 L1436.0,809.1 L1437.5,807.4 L1439.0,805.6 L1440.5,803.7 L1442.0,801.7 L1443.5,799.5 L1445.0,797.3 L1446.5,795.0 L1448.0,792.5 L1449.5,790.1 L1451.0,787.5 L1452.5,784.9 L1454.0,782.2 L1455.5,779.4 L1457.0,776.6 L1458.5,773.8 L1460.0,770.9 L1461.5,768.0 L1463.0,765.1 L1464.5,762.1 L1466.0,759.2 L1467.5,756.2 L1469.0,753.3 L1470.5,750.3 L1472.0,747.3 L1473.5,744.3 L1475.0,741.4 L1476.5,738.4 L1478.0,735.4 L1479.5,732.4 L1481.0,729.4 L1482.5,726.3 L1484.0,723.3 L1485.5,720.3 L1487.0,717.2 L1488.5,714.2 L1490.0,711.1 L1491.5,708.0 L1493.0,704.9 L1494.5,701.9 L1496.0,698.8 L1497.5,695.7 L1499.0,692.7 L1500.5,689.6 L1502.0,686.7 L1503.5,683.8 L1505.0,680.9 L1506.5,678.2 L1508.0,675.5 L1509.5,672.9 L1511.0,670.4 L1512.5,668.1 L1514.0,665.9 L1515.5,663.8 L1517.0,661.8 L1518.5,660.0 L1520.0,658.3 L1521.5,656.8 L1523.0,655.4 L1524.5,654.1 L1526.0,653.0 L1527.5,652.0 L1529.0,651.2 L1530.5,650.5 L1532.0,649.9 L1533.5,649.5 L1535.0,649.2 L1536.5,649.0 L1538.0,649.0 L1539.5,649.1 L1541.0,649.4 L1542.5,649.7 L1544.0,650.2 L1545.5,650.8 L1547.0,651.6 L1548.5,652.4 L1550.0,653.3 L1551.5,654.4 L1553.0,655.6 L1554.5,656.8 L1556.0,658.2 L1557.5,659.6 L1559.0,661.2 L1560.5,662.8 L1562.0,664.5 L1563.5,666.3 L1565.0,668.2 L1566.5,670.1 L1568.0,672.2 L1569.5,674.4 L1571.0,676.7 L1572.5,679.0 L1574.0,681.5 L1575.5,684.1 L1577.0,686.8 L1578.5,689.7 L1580.0,692.6 L1581.5,695.7 L1583.0,698.9 L1584.5,702.2 L1586.0,705.7 L1587.5,709.2 L1589.0,712.9 L1590.5,716.6 L1592.0,720.4 L1593.5,724.3 L1595.0,728.2 L1596.5,732.2 L1598.0,736.3 L1599.5,740.3 L1601.0,744.4 L1602.5,748.5 L1604.0,752.7 L1605.5,756.8 L1607.0,760.9 L1608.5,765.0 L1610.0,769.0 L1611.5,773.1 L1613.0,777.1 L1614.5,781.1 L1616.0,785.1 L1617.5,789.0 L1619.0,792.8 L1620.5,796.7 L1622.0,800.4 L1623.5,804.1 L1625.0,807.7 L1626.5,811.3 L1628.0,814.8 L1629.5,818.2 L1631.0,821.5 L1632.5,824.8 L1634.0,827.9 L1635.5,831.0 L1637.0,834.0 L1638.5,836.8 L1640.0,839.6 L1641.5,842.3 L1643.0,844.8 L1644.5,847.3 L1646.0,849.6 L1647.5,851.9 L1649.0,854.0 L1650.5,855.9 L1652.0,857.8 L1653.5,859.6 L1655.0,861.2 L1656.5,862.7 L1658.0,864.1 L1659.5,865.4 L1661.0,866.6 L1662.5,867.8 L1664.0,868.8 L1665.5,869.7 L1667.0,870.5 L1668.5,871.3 L1670.0,872.0 L1671.5,872.6 L1673.0,873.1 L1674.5,873.6 L1676.0,874.0 L1677.5,874.4 L1679.0,874.7 L1680.5,874.9 L1682.0,875.1 L1683.5,875.3 L1685.0,875.4 L1686.5,875.5 L1688.0,875.5 L1689.5,875.6 L1691.0,875.6 L1692.5,875.6 L1694.0,875.5 L1695.5,875.5 L1697.0,875.5 L1698.5,875.5 L1700.0,875.5 L1701.5,875.4 L1703.0,875.4 L1704.5,875.4 L1706.0,875.4 L1707.5,875.4 L1709.0,875.4 L1710.5,875.4 L1712.0,875.4 L1713.5,875.5 L1715.0,875.5 L1716.5,875.5 L1718.0,875.6 L1719.5,875.7 L1721.0,875.7 L1722.5,875.8 L1724.0,875.9 L1725.5,876.1 L1727.0,876.2 L1728.5,876.3 L1730.0,876.5 L1731.5,876.7 L1733.0,876.9 L1734.5,877.1 L1736.0,877.4 L1737.5,877.6 L1739.0,877.9 L1740.5,878.2 L1742.0,878.5 L1743.5,878.9 L1745.0,879.3 L1746.5,879.7 L1748.0,880.1 L1749.5,880.6 L1751.0,881.1 L1752.5,881.6 L1754.0,882.2 L1755.5,882.7 L1757.0,883.3 L1758.5,884.0 L1760.0,884.6 L1761.5,885.3 L1763.0,886.0 L1764.5,886.7 L1766.0,887.3 L1767.5,888.0 L1769.0,888.7 L1770.5,889.4 L1772.0,890.1 L1773.5,890.8 L1775.0,891.5 L1776.5,892.1 L1778.0,892.8 L1779.5,893.4 L1781.0,894.0 L1782.5,894.5 L1784.0,895.1 L1785.5,895.6 L1787.0,896.1 L1788.5,896.6 L1790.0,897.0 L1791.5,897.4 L1793.0,897.8 L1794.5,898.2 L1796.0,898.6 L1797.5,899.0 L1799.0,899.3 L1800.5,899.6 L1802.0,899.9 L1803.5,900.2 L1805.0,900.5 L1806.5,900.8 L1808.0,901.0 L1809.5,901.2 L1811.0,901.5 L1812.5,901.7 L1814.0,901.9 L1815.5,902.1 L1817.0,902.3 L1818.5,902.4 L1820.0,902.6 L1821.5,902.7 L1823.0,902.9 L1824.5,903.0 L1826.0,903.1 L1827.5,903.2 L1829.0,903.3 L1830.5,903.4 L1832.0,903.5 L1833.5,903.6 L1835.0,903.7 L1836.5,903.7 L1838.0,903.8 L1839.5,903.8 L1841.0,903.8 L1842.5,903.9 L1844.0,903.9 L1845.5,903.9 L1847.0,903.9 L1848.5,903.9 L1850.0,903.9 L1851.5,903.9 L1853.0,903.9 L1854.5,903.9 L1856.0,903.9 L1857.5,903.9 L1859.0,903.9 L1860.5,903.9 L1862.0,904.0 L1863.5,904.0 L1865.0,904.1 L1866.5,904.2 L1868.0,904.3 L1869.5,904.4 L1871.0,904.6 L1872.5,904.8 L1874.0,905.0 L1875.5,905.2 L1877.0,905.5 L1878.5,905.7 L1880.0,906.0 L1881.5,906.4 L1883.0,906.7 L1884.5,907.1 L1886.0,907.5 L1887.5,907.9 L1889.0,908.3 L1890.5,908.8 L1892.0,909.2 L1893.5,909.7 L1895.0,910.2 L1896.5,910.7 L1898.0,911.3 L1899.5,911.8 L1901.0,912.3 L1902.5,912.9 L1904.0,913.5 L1905.5,914.1 L1907.0,914.6 L1908.5,915.2 L1910.0,915.8 L1911.5,916.4 L1913.0,917.0 L1914.5,917.7 L1916.0,918.3 L1917.5,918.9 L1919.0,919.5 L1920.5,920.1 L1922.0,920.7 L1923.5,921.3 L1925.0,921.9 L1926.5,922.5 L1928.0,923.1 L1929.5,923.7 L1931.0,924.3 L1932.5,924.9 L1934.0,925.5 L1935.5,926.0 L1937.0,926.6 L1938.5,927.1 L1940.0,927.6 L1941.5,928.1 L1943.0,928.6 L1944.5,929.1 L1946.0,929.6 L1947.5,930.0 L1949.0,930.5 L1950.5,930.9 L1952.0,931.3 L1953.5,931.7 L1955.0,932.0 L1956.5,932.3 L1958.0,932.6 L1959.5,932.9 L1960.0,933.0" fill="none" stroke="#ff7f00" stroke-width="7.5" stroke-linejoin="round" stroke-linecap="butt"/>
<path d="M189.6,1318.0 L191.1,1312.3 L192.6,1308.0 L194.1,1304.8 L195.6,1302.7 L197.1,1301.3 L198.6,1300.6 L200.1,1300.2 L201.6,1300.0 L203.1,1299.9 L204.6,1300.0 L206.1,1300.7 L207.6,1302.2 L209.1,1304.8 L210.6,1308.4 L212.1,1312.9 L213.6,1317.6 L215.1,1322.5 L216.6,1327.2 L218.1,1331.7 L219.6,1335.8 L221.1,1339.2 L222.6,1341.9 L224.1,1343.7 L225.6,1344.6 L227.1,1344.6 L228.6,1343.8 L230.1,1341.9 L231.6,1338.2 L233.1,1332.4 L234.6,1324.5 L236.1,1315.3 L237.6,1305.8 L239.1,1296.3 L240.6,1287.1 L242.1,1278.1 L243.6,1268.5 L245.1,1257.9 L246.6,1247.1 L248.1,1237.2 L249.6,1229.3 L251.1,1223.9 L252.6,1220.4 L254.1,1218.3 L255.6,1217.2 L257.1,1216.5 L258.6,1216.5 L260.1,1217.7 L261.6,1220.4 L263.1,1225.1 L264.6,1232.1 L266.1,1240.8 L267.6,1250.6 L269.1,1261.2 L270.6,1272.1 L272.1,1283.4 L273.6,1295.1 L275.1,1307.2 L276.6,1319.3 L278.1,1330.6 L279.6,1340.5 L281.1,1348.6 L282.6,1354.8 L284.1,1359.3 L285.6,1362.1 L287.1,1363.1 L288.6,1362.7 L290.1,1361.1 L291.6,1358.6 L293.1,1355.7 L294.6,1352.6 L296.1,1349.6 L297.6,1346.8 L299.1,1344.2 L300.6,1341.8 L302.1,1339.9 L303.6,1338.3 L305.1,1337.2 L306.6,1336.6 L308.1,1336.5 L309.6,1337.1 L311.1,1338.2 L312.6,1339.7 L314.1,1341.6 L315.6,1343.8 L317.1,1346.0 L318.6,1348.4 L320.1,1350.7 L321.6,1352.8 L323.1,1354.8 L324.6,1356.5 L326.1,1357.8 L327.6,1358.6 L329.1,1358.9 L330.6,1358.8 L332.1,1358.2 L333.6,1357.3 L335.1,1356.2 L336.6,1354.8 L338.1,1353.2 L339.6,1351.6 L341.1,1350.0 L342.6,1348.4 L344.1,1346.9 L345.6,1345.5 L347.1,1344.4 L348.6,1343.5 L350.1,1342.8 L351.6,1342.4 L353.1,1342.1 L354.6,1342.0 L356.1,1342.1 L357.6,1342.3 L359.1,1342.5 L360.6,1342.9 L362.1,1343.3 L363.6,1343.7 L365.1,1344.1 L366.6,1344.5 L368.1,1344.7 L369.6,1344.9 L371.1,1345.0 L372.6,1345.0 L374.1,1344.9 L375.6,1344.8 L377.1,1344.7 L378.6,1344.5 L380.1,1344.4 L381.6,1344.3 L383.1,1344.2 L384.6,1344.2 L386.1,1344.3 L387.6,1344.5 L389.1,1344.8 L390.6,1345.3 L392.1,1345.8 L393.6,1346.4 L395.1,1347.0 L396.6,1347.5 L398.1,1348.1 L399.6,1348.5 L401.1,1348.8 L402.6,1348.9 L404.1,1348.8 L405.6,1348.5 L407.1,1348.1 L408.6,1347.6 L410.1,1346.9 L411.6,1346.3 L413.1,1345.6 L414.6,1344.9 L416.1,1344.2 L417.6,1343.7 L419.1,1343.2 L420.6,1342.9 L422.1,1342.7 L423.6,1342.6 L425.1,1342.5 L426.6,1342.5 L428.1,1342.5 L429.6,1342.5 L431.1,1342.5 L432.6,1342.4 L434.1,1342.2 L435.6,1341.8 L437.1,1341.3 L438.6,1340.7 L440.1,1339.8 L441.6,1338.7 L443.1,1337.4 L444.6,1335.8 L446.1,1334.1 L447.6,1332.2 L449.1,1330.2 L450.6,1328.2 L452.1,1326.3 L453.6,1324.4 L455.1,1322.6 L456.6,1321.0 L458.1,1319.6 L459.6,1318.4 L461.1,1317.5 L462.6,1316.9 L464.1,1316.5 L465.6,1316.4 L467.1,1316.5 L468.6,1317.0 L470.1,1317.6 L471.6,1318.4 L473.1,1319.3 L474.6,1320.3 L476.1,1321.3 L477.6,1322.2 L479.1,1323.0 L480.6,1323.6 L482.1,1324.1 L483.6,1324.2 L485.1,1324.1 L486.6,1323.6 L488.1,1322.6 L489.6,1321.2 L491.1,1319.3 L492.6,1316.8 L494.1,1313.9 L495.6,1310.7 L497.1,1307.4 L498.6,1304.2 L500.1,1301.3 L501.6,1298.9 L503.1,1297.1 L504.6,1295.9 L506.1,1295.3 L507.6,1295.1 L509.1,1295.5 L510.6,1296.2 L512.1,1297.3 L513.6,1298.6 L515.1,1300.0 L516.6,1301.4 L518.1,1302.7 L519.6,1303.8 L521.1,1304.6 L522.6,1305.0 L524.1,1304.9 L525.6,1303.9 L527.1,1301.8 L528.6,1298.3 L530.1,1293.1 L531.6,1286.0 L533.1,1277.1 L534.6,1266.7 L536.1,1254.9 L537.6,1242.0 L539.1,1228.1 L540.6,1213.4 L542.1,1198.2 L543.6,1182.5 L545.1,1166.6 L546.6,1150.7 L548.1,1135.3 L549.6,1121.3 L551.1,1109.2 L552.6,1099.7 L554.1,1093.4 L555.6,1090.0 L557.1,1089.0 L558.6,1089.6 L560.1,1091.9 L561.6,1096.0 L563.1,1101.9 L564.6,1110.0 L566.1,1120.1 L567.6,1132.1 L569.1,1145.6 L570.6,1160.4 L572.1,1176.1 L573.6,1192.4 L575.1,1209.3 L576.6,1226.4 L578.1,1243.7 L579.6,1261.0 L581.1,1278.0 L582.6,1294.3 L584.1,1309.2 L585.6,1322.3 L587.1,1333.1 L588.6,1341.0 L590.1,1346.5 L591.6,1349.9 L593.1,1351.8 L594.6,1352.7 L596.1,1353.0 L597.6,1352.9 L599.1,1352.6 L600.6,1352.2 L602.1,1351.8 L603.6,1351.5 L605.1,1351.5 L606.6,1351.9 L608.1,1352.8 L609.6,1354.1 L611.1,1355.8 L612.6,1358.0 L614.1,1360.6 L615.6,1363.5 L617.1,1366.8 L618.6,1370.1 L620.1,1373.5 L621.6,1376.7 L623.1,1379.6 L624.6,1382.2 L626.1,1384.2 L627.6,1385.6 L629.1,1386.6 L630.6,1387.1 L632.1,1387.3 L633.6,1387.1 L635.1,1386.7 L636.6,1386.2 L638.1,1385.5 L639.6,1384.7 L641.1,1383.9 L642.6,1383.1 L644.1,1382.4 L645.6,1381.9 L647.1,1381.5 L648.6,1381.4 L650.1,1381.6 L651.6,1382.0 L653.1,1382.6 L654.6,1383.4 L656.1,1384.4 L657.6,1385.5 L659.1,1386.6 L660.6,1387.8 L662.1,1389.0 L663.6,1390.2 L665.1,1391.3 L666.6,1392.4 L668.1,1393.3 L669.6,1394.1 L671.1,1394.7 L672.6,1395.2 L674.1,1395.4 L675.6,1395.5 L677.1,1395.5 L678.6,1395.4 L680.1,1395.2 L681.6,1395.1 L683.1,1394.9 L684.6,1394.8 L686.1,1394.8 L687.6,1394.9 L689.1,1395.0 L690.6,1395.3 L692.1,1395.6 L693.6,1396.0 L695.1,1396.4 L696.6,1396.7 L698.1,1397.1 L699.6,1397.4 L701.1,1397.6 L702.6,1397.7 L704.1,1397.8 L705.6,1397.7 L707.1,1397.6 L708.6,1397.4 L710.1,1397.2 L711.6,1397.0 L713.1,1396.8 L714.6,1396.5 L716.1,1396.3 L717.6,1396.1 L719.1,1396.0 L720.6,1395.9 L722.1,1395.9 L723.6,1396.1 L725.1,1396.3 L726.6,1396.6 L728.1,1396.9 L729.6,1397.4 L731.1,1397.8 L732.6,1398.4 L734.1,1398.9 L735.6,1399.4 L737.1,1400.0 L738.6,1400.5 L740.1,1401.0 L741.6,1401.5 L743.1,1401.9 L744.6,1402.3 L746.1,1402.5 L747.6,1402.7 L749.1,1402.8 L750.6,1402.9 L752.1,1402.8 L753.6,1402.8 L755.1,1402.6 L756.6,1402.4 L758.1,1402.2 L759.6,1402.0 L761.1,1401.7 L762.6,1401.5 L764.1,1401.2 L765.6,1400.9 L767.1,1400.7 L768.6,1400.4 L770.1,1400.2 L771.6,1400.1 L773.1,1399.9 L774.6,1399.8 L776.1,1399.8 L777.6,1399.8 L779.1,1399.9 L780.6,1400.1 L782.1,1400.2 L783.6,1400.5 L785.1,1400.7 L786.6,1401.0 L788.1,1401.2 L789.6,1401.5 L791.1,1401.7 L792.6,1402.0 L794.1,1402.2 L795.6,1402.4 L797.1,1402.5 L798.6,1402.6 L800.1,1402.6 L801.6,1402.6 L803.1,1402.5 L804.6,1402.3 L806.1,1402.0 L807.6,1401.7 L809.1,1401.4 L810.6,1401.0 L812.1,1400.6 L813.6,1400.2 L815.1,1399.8 L816.6,1399.5 L818.1,1399.2 L819.6,1399.0 L821.1,1398.8 L822.6,1398.7 L824.1,1398.7 L825.6,1398.8 L827.1,1398.9 L828.6,1399.2 L830.1,1399.5 L831.6,1399.8 L833.1,1400.1 L834.6,1400.5 L836.1,1400.9 L837.6,1401.3 L839.1,1401.7 L840.6,1402.1 L842.1,1402.5 L843.6,1402.8 L845.1,1403.1 L846.6,1403.4 L848.1,1403.5 L849.6,1403.6 L851.1,1403.7 L852.6,1403.6 L854.1,1403.5 L855.6,1403.4 L857.1,1403.2 L858.6,1402.9 L860.1,1402.7 L861.6,1402.4 L863.1,1402.2 L864.6,1401.9 L866.1,1401.6 L867.6,1401.4 L869.1,1401.1 L870.6,1400.9 L872.1,1400.8 L873.6,1400.6 L875.1,1400.5 L876.6,1400.4 L878.1,1400.4 L879.6,1400.4 L881.1,1400.4 L882.6,1400.4 L884.1,1400.4 L885.6,1400.5 L887.1,1400.6 L888.6,1400.8 L890.1,1401.0 L891.6,1401.2 L893.1,1401.4 L894.6,1401.6 L896.1,1401.9 L897.6,1402.2 L899.1,1402.6 L900.6,1403.0 L902.1,1403.4 L903.6,1403.8 L905.1,1404.2 L906.6,1404.6 L908.1,1405.0 L909.6,1405.4 L911.1,1405.7 L912.6,1406.1 L914.1,1406.3 L915.6,1406.6 L917.1,1406.8 L918.6,1406.9 L920.1,1407.0 L921.6,1407.0 L923.1,1406.9 L924.6,1406.8 L926.1,1406.6 L927.6,1406.3 L929.1,1406.0 L930.6,1405.6 L932.1,1405.3 L933.6,1404.9 L935.1,1404.5 L936.6,1404.1 L938.1,1403.7 L939.6,1403.4 L941.1,1403.1 L942.6,1402.8 L944.1,1402.6 L945.6,1402.4 L947.1,1402.3 L948.6,1402.2 L950.1,1402.2 L951.6,1402.3 L953.1,1402.4 L954.6,1402.5 L956.1,1402.7 L957.6,1402.9 L959.1,1403.2 L960.6,1403.4 L962.1,1403.8 L963.6,1404.1 L965.1,1404.4 L966.6,1404.8 L968.1,1405.1 L969.6,1405.5 L971.1,1405.9 L972.6,1406.3 L974.1,1406.7 L975.6,1407.0 L977.1,1407.4 L978.6,1407.7 L980.1,1408.1 L981.6,1408.4 L983.1,1408.6 L984.6,1408.9 L986.1,1409.1 L987.6,1409.2 L989.1,1409.3 L990.6,1409.4 L992.1,1409.4 L993.6,1409.4 L995.1,1409.3 L996.6,1409.2 L998.1,1409.1 L999.6,1409.0 L1001.1,1408.8 L1002.6,1408.6 L1004.1,1408.4 L1005.6,1408.2 L1007.1,1408.1 L1008.6,1407.9 L1010.1,1407.7 L1011.6,1407.6 L1013.1,1407.5 L1014.6,1407.4 L1016.1,1407.4 L1017.6,1407.4 L1019.1,1407.5 L1020.6,1407.6 L1022.1,1407.7 L1023.6,1407.8 L1025.1,1408.0 L1026.6,1408.2 L1028.1,1408.4 L1029.6,1408.6 L1031.1,1408.8 L1032.6,1409.0 L1034.1,1409.1 L1035.6,1409.2 L1037.1,1409.3 L1038.6,1409.4 L1040.1,1409.4 L1041.6,1409.4 L1043.1,1409.3 L1044.6,1409.2 L1046.1,1409.0 L1047.6,1408.8 L1049.1,1408.6 L1050.6,1408.3 L1052.1,1408.1 L1053.6,1407.8 L1055.1,1407.5 L1056.6,1407.3 L1058.1,1407.0 L1059.6,1406.7 L1061.1,1406.5 L1062.6,1406.2 L1064.1,1406.0 L1065.6,1405.8 L1067.1,1405.7 L1068.6,1405.6 L1070.1,1405.5 L1071.6,1405.5 L1073.1,1405.5 L1074.6,1405.6 L1076.1,1405.7 L1077.6,1405.8 L1079.1,1406.0 L1080.6,1406.2 L1082.1,1406.4 L1083.6,1406.7 L1085.1,1406.9 L1086.6,1407.2 L1088.1,1407.5 L1089.6,1407.7 L1091.1,1408.0 L1092.6,1408.3 L1094.1,1408.5 L1095.6,1408.7 L1097.1,1409.0 L1098.6,1409.2 L1100.1,1409.3 L1101.6,1409.5 L1103.1,1409.6 L1104.6,1409.7 L1106.1,1409.8 L1107.6,1409.8 L1109.1,1409.8 L1110.6,1409.9 L1112.1,1409.8 L1113.6,1409.8 L1115.1,1409.8 L1116.6,1409.7 L1118.1,1409.6 L1119.6,1409.5 L1121.1,1409.3 L1122.6,1409.2 L1124.1,1409.0 L1125.6,1408.8 L1127.1,1408.6 L1128.6,1408.4 L1130.1,1408.2 L1131.6,1408.0 L1133.1,1407.8 L1134.6,1407.6 L1136.1,1407.4 L1137.6,1407.2 L1139.1,1407.0 L1140.6,1406.8 L1142.1,1406.7 L1143.6,1406.5 L1145.1,1406.4 L1146.6,1406.3 L1148.1,1406.3 L1149.6,1406.2 L1151.1,1406.2 L1152.6,1406.2 L1154.1,1406.2 L1155.6,1406.3 L1157.1,1406.3 L1158.6,1406.4 L1160.1,1406.5 L1161.6,1406.5 L1163.1,1406.6 L1164.6,1406.7 L1166.1,1406.9 L1167.6,1407.0 L1169.1,1407.1 L1170.6,1407.2 L1172.1,1407.3 L1173.6,1407.4 L1175.1,1407.5 L1176.6,1407.6 L1178.1,1407.6 L1179.6,1407.7 L1181.1,1407.7 L1182.6,1407.7 L1184.1,1407.7 L1185.6,1407.7 L1187.1,1407.6 L1188.6,1407.5 L1190.1,1407.4 L1191.6,1407.2 L1193.1,1407.0 L1194.6,1406.7 L1196.1,1406.4 L1197.6,1406.1 L1199.1,1405.7 L1200.6,1405.3 L1202.1,1404.8 L1203.6,1404.4 L1205.1,1403.9 L1206.6,1403.4 L1208.1,1403.0 L1209.6,1402.6 L1211.1,1402.2 L1212.6,1401.9 L1214.1,1401.6 L1215.6,1401.4 L1217.1,1401.3 L1218.6,1401.3 L1220.1,1401.3 L1221.6,1401.5 L1223.1,1401.8 L1224.6,1402.1 L1226.1,1402.5 L1227.6,1403.0 L1229.1,1403.5 L1230.6,1404.0 L1232.1,1404.6 L1233.6,1405.2 L1235.1,1405.8 L1236.6,1406.3 L1238.1,1406.9 L1239.6,1407.4 L1241.1,1407.8 L1242.6,1408.2 L1244.1,1408.5 L1245.6,1408.8 L1247.1,1409.0 L1248.6,1409.1 L1250.1,1409.2 L1251.6,1409.2 L1253.1,1409.2 L1254.6,1409.2 L1256.1,1409.2 L1257.6,1409.1 L1259.1,1409.1 L1260.6,1409.0 L1262.1,1408.9 L1263.6,1408.8 L1265.1,1408.8 L1266.6,1408.8 L1268.1,1408.7 L1269.6,1408.8 L1271.1,1408.8 L1272.6,1408.9 L1274.1,1409.1 L1275.6,1409.3 L1277.1,1409.6 L1278.6,1409.8 L1280.1,1410.2 L1281.6,1410.5 L1283.1,1410.8 L1284.6,1411.2 L1286.1,1411.6 L1287.6,1411.9 L1289.1,1412.3 L1290.6,1412.6 L1292.1,1413.0 L1293.6,1413.3 L1295.1,1413.5 L1296.6,1413.7 L1298.1,1413.9 L1299.6,1414.0 L1301.1,1414.1 L1302.6,1414.1 L1304.1,1414.0 L1305.6,1413.8 L1307.1,1413.6 L1308.6,1413.3 L1310.1,1413.0 L1311.6,1412.6 L1313.1,1412.3 L1314.6,1411.9 L1316.1,1411.5 L1317.6,1411.2 L1319.1,1410.8 L1320.6,1410.6 L1322.1,1410.3 L1323.6,1410.1 L1325.1,1410.0 L1326.6,1410.0 L1328.1,1410.1 L1329.6,1410.2 L1331.1,1410.4 L1332.6,1410.8 L1334.1,1411.1 L1335.6,1411.5 L1337.1,1412.0 L1338.6,1412.5 L1340.1,1413.0 L1341.6,1413.6 L1343.1,1414.1 L1344.6,1414.7 L1346.1,1415.2 L1347.6,1415.8 L1349.1,1416.3 L1350.6,1416.8 L1352.1,1417.2 L1353.6,1417.6 L1355.1,1418.0 L1356.6,1418.3 L1358.1,1418.6 L1359.6,1418.9 L1361.1,1419.1 L1362.6,1419.3 L1364.1,1419.4 L1365.6,1419.6 L1367.1,1419.7 L1368.6,1419.7 L1370.1,1419.8 L1371.6,1419.8 L1373.1,1419.8 L1374.6,1419.8 L1376.1,1419.8 L1377.6,1419.7 L1379.1,1419.6 L1380.6,1419.6 L1382.1,1419.5 L1383.6,1419.4 L1385.1,1419.2 L1386.6,1419.1 L1388.1,1419.0 L1389.6,1418.8 L1391.1,1418.7 L1392.6,1418.5 L1394.1,1418.4 L1395.6,1418.2 L1397.1,1418.1 L1398.6,1417.9 L1400.1,1417.8 L1401.6,1417.7 L1403.1,1417.6 L1404.6,1417.5 L1406.1,1417.4 L1407.6,1417.4 L1409.1,1417.3 L1410.6,1417.3 L1412.1,1417.3 L1413.6,1417.4 L1415.1,1417.5 L1416.6,1417.6 L1418.1,1417.7 L1419.6,1417.9 L1421.1,1418.1 L1422.6,1418.3 L1424.1,1418.5 L1425.6,1418.7 L1427.1,1418.9 L1428.6,1419.1 L1430.1,1419.3 L1431.6,1419.4 L1433.1,1419.5 L1434.6,1419.6 L1436.1,1419.6 L1437.6,1419.5 L1439.1,1419.4 L1440.6,1419.3 L1442.1,1419.1 L1443.6,1418.9 L1445.1,1418.6 L1446.6,1418.4 L1448.1,1418.1 L1449.6,1417.9 L1451.1,1417.7 L1452.6,1417.5 L1454.1,1417.4 L1455.6,1417.3 L1457.1,1417.3 L1458.6,1417.3 L1460.1,1417.4 L1461.6,1417.5 L1463.1,1417.7 L1464.6,1417.9 L1466.1,1418.2 L1467.6,1418.5 L1469.1,1418.8 L1470.6,1419.1 L1472.1,1419.4 L1473.6,1419.7 L1475.1,1420.0 L1476.6,1420.3 L1478.1,1420.6 L1479.6,1420.9 L1481.1,1421.2 L1482.6,1421.4 L1484.1,1421.6 L1485.6,1421.8 L1487.1,1422.0 L1488.6,1422.1 L1490.1,1422.1 L1491.6,1422.2 L1493.1,1422.2 L1494.6,1422.2 L1496.1,1422.1 L1497.6,1422.1 L1499.1,1422.0 L1500.6,1421.8 L1502.1,1421.7 L1503.6,1421.5 L1505.1,1421.3 L1506.6,1421.1 L1508.1,1420.8 L1509.6,1420.5 L1511.1,1420.2 L1512.6,1419.9 L1514.1,1419.6 L1515.6,1419.2 L1517.1,1418.8 L1518.6,1418.5 L1520.1,1418.1 L1521.6,1417.7 L1523.1,1417.4 L1524.6,1417.0 L1526.1,1416.7 L1527.6,1416.4 L1529.1,1416.2 L1530.6,1416.0 L1532.1,1415.9 L1533.6,1415.8 L1535.1,1415.8 L1536.6,1415.9 L1538.1,1416.1 L1539.6,1416.4 L1541.1,1416.7 L1542.6,1417.1 L1544.1,1417.5 L1545.6,1417.9 L1547.1,1418.4 L1548.6,1419.0 L1550.1,1419.5 L1551.6,1420.0 L1553.1,1420.5 L1554.6,1421.0 L1556.1,1421.4 L1557.6,1421.8 L1559.1,1422.1 L1560.6,1422.4 L1562.1,1422.6 L1563.6,1422.7 L1565.1,1422.7 L1566.6,1422.6 L1568.1,1422.4 L1569.6,1422.1 L1571.1,1421.8 L1572.6,1421.5 L1574.1,1421.1 L1575.6,1420.8 L1577.1,1420.4 L1578.6,1420.1 L1580.1,1419.8 L1581.6,1419.6 L1583.1,1419.4 L1584.6,1419.4 L1586.1,1419.4 L1587.6,1419.6 L1589.1,1419.9 L1590.6,1420.3 L1592.1,1420.8 L1593.6,1421.4 L1595.1,1422.1 L1596.6,1422.8 L1598.1,1423.5 L1599.6,1424.1 L1601.1,1424.8 L1602.6,1425.4 L1604.1,1425.9 L1605.6,1426.3 L1607.1,1426.6 L1608.6,1426.7 L1610.1,1426.7 L1611.6,1426.6 L1613.1,1426.4 L1614.6,1426.2 L1616.1,1425.8 L1617.6,1425.4 L1619.1,1425.0 L1620.6,1424.6 L1622.1,1424.2 L1623.6,1423.8 L1625.1,1423.4 L1626.6,1423.1 L1628.1,1422.9 L1629.6,1422.7 L1631.1,1422.7 L1632.6,1422.8 L1634.1,1423.0 L1635.6,1423.2 L1637.1,1423.6 L1638.6,1424.0 L1640.1,1424.4 L1641.6,1424.8 L1643.1,1425.3 L1644.6,1425.8 L1646.1,1426.3 L1647.6,1426.7 L1649.1,1427.1 L1650.6,1427.5 L1652.1,1427.8 L1653.6,1428.0 L1655.1,1428.2 L1656.6,1428.4 L1658.1,1428.4 L1659.6,1428.5 L1661.1,1428.5 L1662.6,1428.5 L1664.1,1428.5 L1665.6,1428.4 L1667.1,1428.3 L1668.6,1428.1 L1670.1,1428.0 L1671.6,1427.8 L1673.1,1427.7 L1674.6,1427.5 L1676.1,1427.3 L1677.6,1427.1 L1679.1,1426.9 L1680.6,1426.7 L1682.1,1426.5 L1683.6,1426.3 L1685.1,1426.1 L1686.6,1426.0 L1688.1,1425.8 L1689.6,1425.7 L1691.1,1425.6 L1692.6,1425.6 L1694.1,1425.5 L1695.6,1425.5 L1697.1,1425.4 L1698.6,1425.4 L1700.1,1425.5 L1701.6,1425.5 L1703.1,1425.5 L1704.6,1425.6 L1706.1,1425.7 L1707.6,1425.7 L1709.1,1425.8 L1710.6,1425.9 L1712.1,1426.0 L1713.6,1426.1 L1715.1,1426.2 L1716.6,1426.4 L1718.1,1426.5 L1719.6,1426.6 L1721.1,1426.8 L1722.6,1426.9 L1724.1,1427.0 L1725.6,1427.1 L1727.1,1427.3 L1728.6,1427.4 L1730.1,1427.5 L1731.6,1427.6 L1733.1,1427.7 L1734.6,1427.9 L1736.1,1428.0 L1737.6,1428.1 L1739.1,1428.2 L1740.6,1428.3 L1742.1,1428.4 L1743.6,1428.5 L1745.1,1428.6 L1746.6,1428.7 L1748.1,1428.8 L1749.6,1428.9 L1751.1,1429.1 L1752.6,1429.2 L1754.1,1429.3 L1755.6,1429.4 L1757.1,1429.5 L1758.6,1429.7 L1760.1,1429.8 L1761.6,1429.9 L1763.1,1430.1 L1764.6,1430.2 L1766.1,1430.4 L1767.6,1430.5 L1769.1,1430.7 L1770.6,1430.9 L1772.1,1431.0 L1773.6,1431.2 L1775.1,1431.3 L1776.6,1431.4 L1778.1,1431.5 L1779.6,1431.6 L1781.1,1431.6 L1782.6,1431.7 L1784.1,1431.6 L1785.6,1431.6 L1787.1,1431.5 L1788.6,1431.3 L1790.1,1431.1 L1791.6,1430.9 L1793.1,1430.6 L1794.6,1430.3 L1796.1,1429.9 L1797.6,1429.6 L1799.1,1429.3 L1800.6,1429.0 L1802.1,1428.8 L1803.6,1428.6 L1805.1,1428.5 L1806.6,1428.4 L1808.1,1428.4 L1809.6,1428.6 L1811.1,1428.8 L1812.6,1429.1 L1814.1,1429.5 L1815.6,1429.9 L1817.1,1430.4 L1818.6,1430.9 L1820.1,1431.3 L1821.6,1431.8 L1823.1,1432.2 L1824.6,1432.6 L1826.1,1432.9 L1827.6,1433.1 L1829.1,1433.3 L1830.6,1433.3 L1832.1,1433.2 L1833.6,1433.0 L1835.1,1432.8 L1836.6,1432.5 L1838.1,1432.1 L1839.6,1431.7 L1841.1,1431.3 L1842.6,1430.8 L1844.1,1430.4 L1845.6,1429.9 L1847.1,1429.4 L1848.6,1429.0 L1850.1,1428.5 L1851.6,1428.1 L1853.1,1427.8 L1854.6,1427.5 L1856.1,1427.2 L1857.6,1427.0 L1859.1,1426.9 L1860.6,1426.9 L1862.1,1426.9 L1863.6,1426.9 L1865.1,1427.0 L1866.6,1427.2 L1868.1,1427.3 L1869.6,1427.5 L1871.1,1427.7 L1872.6,1428.0 L1874.1,1428.2 L1875.6,1428.5 L1877.1,1428.8 L1878.6,1429.0 L1880.1,1429.3 L1881.6,1429.5 L1883.1,1429.8 L1884.6,1430.0 L1886.1,1430.2 L1887.6,1430.4 L1889.1,1430.5 L1890.6,1430.7 L1892.1,1430.8 L1893.6,1431.0 L1895.1,1431.1 L1896.6,1431.2 L1898.1,1431.3 L1899.6,1431.5 L1901.1,1431.6 L1902.6,1431.7 L1904.1,1431.8 L1905.6,1432.0 L1907.1,1432.1 L1908.6,1432.3 L1910.1,1432.4 L1911.6,1432.6 L1913.1,1432.8 L1914.6,1433.0 L1916.1,1433.2 L1917.6,1433.4 L1919.1,1433.6 L1920.6,1433.8 L1922.1,1434.1 L1923.6,1434.3 L1925.1,1434.5 L1926.6,1434.7 L1928.1,1434.9 L1929.6,1435.2 L1931.1,1435.4 L1932.6,1435.6 L1934.1,1435.8 L1935.6,1435.9 L1937.1,1436.1 L1938.6,1436.3 L1940.1,1436.4 L1941.6,1436.6 L1943.1,1436.7 L1944.6,1436.8 L1946.1,1436.9 L1947.6,1436.9 L1949.1,1437.0 L1950.6,1437.0 L1952.1,1437.0 L1953.6,1437.0 L1955.1,1436.9 L1956.6,1436.8 L1958.1,1436.7 L1959.6,1436.5 L1960.0,1436.5" fill="none" stroke="#008000" stroke-width="7.5" stroke-linejoin="round" stroke-linecap="butt"/>
<path d="M189.6,1801.0 C191.0,1801.5 201.2,1805.8 204.0,1806.5 C206.8,1807.2 214.7,1807.3 218.0,1807.5 C221.3,1807.7 233.6,1807.6 237.0,1808.0 C240.4,1808.4 248.7,1811.0 251.8,1811.5 C254.9,1812.0 264.8,1811.2 268.0,1812.8 C271.2,1814.4 280.8,1827.5 284.0,1827.6 C287.2,1827.7 296.7,1815.4 300.2,1814.2 C303.7,1813.0 315.8,1815.5 319.0,1816.0 C322.2,1816.5 329.2,1817.9 332.4,1819.6 C335.6,1821.3 348.2,1832.5 351.2,1833.0 C354.2,1833.5 359.9,1826.8 362.0,1825.0 C364.1,1823.2 370.0,1815.4 372.7,1815.5 C375.4,1815.6 386.1,1825.2 388.8,1826.3 C391.5,1827.4 397.7,1825.6 399.6,1826.3 C401.5,1827.0 405.5,1833.4 407.6,1833.0 C409.7,1832.6 418.2,1821.7 421.0,1822.2 C423.8,1822.7 432.6,1838.3 435.8,1838.4 C439.0,1838.5 450.2,1824.8 453.3,1823.6 C456.4,1822.4 464.0,1825.4 466.7,1826.3 C469.4,1827.2 477.4,1833.1 480.2,1833.0 C483.0,1832.9 492.1,1824.1 495.0,1825.0 C497.9,1825.9 506.9,1840.9 509.7,1842.4 C512.5,1843.9 520.7,1839.6 523.1,1839.7 C525.5,1839.8 531.3,1844.5 533.9,1843.7 C536.5,1842.9 545.7,1831.7 548.7,1831.6 C551.7,1831.5 560.4,1842.0 563.5,1842.4 C566.6,1842.8 576.0,1834.6 579.6,1835.7 C583.2,1836.8 596.2,1852.6 599.7,1853.1 C603.2,1853.6 611.5,1842.5 614.5,1841.0 C617.5,1839.5 627.1,1839.1 630.0,1838.4 C632.9,1837.7 640.7,1834.3 643.4,1834.3 C646.1,1834.3 653.7,1836.5 656.9,1838.4 C660.1,1840.3 672.5,1851.9 675.7,1853.1 C678.9,1854.3 686.1,1853.8 689.1,1850.5 C692.1,1847.2 702.2,1821.3 705.2,1819.6 C708.2,1817.8 716.3,1831.3 718.7,1833.0 C721.1,1834.7 727.2,1835.8 729.4,1837.0 C731.5,1838.2 737.2,1846.5 740.2,1845.0 C743.2,1843.5 755.5,1823.9 759.0,1822.2 C762.5,1820.5 771.2,1828.5 775.0,1827.6 C778.8,1826.7 792.3,1813.7 796.6,1812.8 C800.9,1811.9 814.2,1817.1 818.0,1818.2 C821.8,1819.3 830.7,1824.3 834.2,1823.6 C837.7,1822.9 849.5,1811.6 853.0,1811.5 C856.5,1811.4 866.1,1821.7 869.1,1822.2 C872.1,1822.7 879.8,1816.4 882.5,1816.9 C885.2,1817.4 893.3,1827.5 896.0,1827.6 C898.7,1827.7 906.4,1817.5 909.4,1818.2 C912.4,1818.9 922.8,1833.2 925.5,1834.3 C928.2,1835.4 933.6,1828.3 936.3,1829.0 C939.0,1829.7 949.2,1841.4 952.4,1841.0 C955.6,1840.6 965.0,1825.1 968.5,1825.0 C972.0,1824.9 983.3,1840.1 987.3,1839.7 C991.3,1839.3 1004.5,1821.7 1008.8,1820.9 C1013.1,1820.1 1026.3,1831.6 1030.3,1831.6 C1034.3,1831.6 1045.3,1823.0 1049.1,1820.9 C1052.9,1818.8 1064.9,1809.8 1068.0,1810.2 C1071.1,1810.7 1077.9,1826.0 1080.4,1825.4 C1082.9,1824.8 1090.1,1805.1 1093.0,1804.5 C1095.9,1803.9 1106.6,1819.1 1109.7,1819.1 C1112.8,1819.1 1121.2,1805.5 1124.3,1804.5 C1127.4,1803.5 1138.1,1808.8 1141.0,1808.6 C1143.9,1808.4 1150.9,1805.5 1153.6,1802.4 C1156.3,1799.3 1165.1,1780.2 1168.2,1777.3 C1171.3,1774.4 1182.3,1775.2 1185.0,1773.1 C1187.7,1771.0 1192.9,1759.1 1195.4,1756.4 C1197.9,1753.7 1207.5,1749.8 1210.0,1746.0 C1212.5,1742.2 1217.7,1725.5 1220.4,1718.8 C1223.1,1712.1 1234.5,1686.1 1237.2,1679.0 C1239.9,1671.9 1244.9,1654.5 1247.6,1647.8 C1250.3,1641.1 1260.3,1617.3 1264.3,1612.2 C1268.3,1607.1 1283.8,1597.0 1287.3,1596.6 C1290.8,1596.2 1297.3,1607.4 1299.8,1608.0 C1302.3,1608.6 1310.3,1600.9 1312.4,1602.8 C1314.5,1604.7 1319.0,1620.5 1320.7,1626.9 C1322.4,1633.3 1326.5,1660.3 1329.0,1666.6 C1331.5,1672.9 1342.5,1684.3 1345.8,1689.5 C1349.1,1694.7 1359.8,1714.0 1362.5,1718.8 C1365.2,1723.6 1370.5,1735.5 1373.0,1737.6 C1375.5,1739.7 1384.5,1738.9 1387.6,1739.7 C1390.7,1740.5 1401.8,1745.1 1404.3,1746.0 C1406.8,1746.9 1410.4,1749.3 1412.5,1749.0 C1414.6,1748.7 1422.5,1742.4 1425.0,1742.7 C1427.5,1743.0 1434.9,1753.0 1437.6,1752.5 C1440.3,1752.0 1449.3,1738.9 1452.0,1737.3 C1454.7,1735.7 1462.2,1739.1 1464.5,1736.4 C1466.8,1733.7 1472.3,1713.0 1475.2,1710.5 C1478.1,1708.0 1490.2,1713.6 1493.1,1711.4 C1496.0,1709.2 1501.9,1695.5 1503.9,1689.0 C1505.9,1682.5 1510.6,1653.5 1512.8,1646.0 C1515.0,1638.5 1522.7,1619.2 1525.4,1613.7 C1528.1,1608.2 1537.0,1592.2 1539.7,1591.3 C1542.4,1590.4 1549.7,1600.2 1552.2,1604.8 C1554.7,1609.4 1562.6,1629.8 1564.8,1637.0 C1567.0,1644.2 1571.9,1667.1 1573.7,1676.4 C1575.5,1685.7 1581.1,1719.5 1582.7,1730.2 C1584.3,1741.0 1588.3,1775.5 1589.9,1783.9 C1591.5,1792.3 1596.6,1810.0 1598.8,1814.3 C1601.0,1818.6 1608.4,1825.6 1611.4,1826.9 C1614.5,1828.2 1626.1,1826.7 1629.3,1826.9 C1632.5,1827.1 1640.9,1827.5 1643.6,1828.7 C1646.3,1830.0 1653.1,1838.2 1656.1,1839.4 C1659.1,1840.6 1670.8,1842.5 1674.0,1840.3 C1677.2,1838.1 1685.7,1818.2 1688.5,1817.0 C1691.3,1815.8 1699.9,1826.5 1702.5,1828.5 C1705.1,1830.5 1712.2,1834.8 1714.6,1837.1 C1717.0,1839.3 1723.9,1851.9 1726.7,1851.0 C1729.5,1850.1 1739.5,1829.8 1742.3,1828.5 C1745.1,1827.2 1751.5,1836.9 1754.4,1838.0 C1757.4,1839.1 1768.8,1840.9 1771.8,1839.7 C1774.8,1838.5 1782.0,1826.3 1783.9,1825.9 C1785.8,1825.5 1789.1,1831.8 1790.8,1835.4 C1792.5,1839.0 1798.4,1861.5 1801.2,1862.2 C1804.0,1862.9 1815.6,1845.9 1818.5,1842.3 C1821.4,1838.7 1828.2,1826.4 1830.6,1825.9 C1833.0,1825.4 1840.5,1836.1 1842.7,1837.1 C1845.0,1838.0 1850.8,1834.4 1853.1,1835.4 C1855.3,1836.4 1862.8,1846.4 1865.2,1847.5 C1867.6,1848.6 1875.1,1847.7 1877.4,1846.7 C1879.7,1845.8 1885.4,1837.2 1887.8,1838.0 C1890.2,1838.8 1899.0,1853.9 1901.6,1854.4 C1904.2,1854.9 1911.3,1844.0 1913.7,1843.2 C1916.1,1842.4 1923.2,1847.0 1925.8,1846.7 C1928.4,1846.4 1936.3,1840.2 1939.7,1839.7 C1943.1,1839.2 1958.0,1841.3 1960.0,1841.5" fill="none" stroke="#ff0000" stroke-width="7.5" stroke-linejoin="round" stroke-linecap="butt"/>
<path d="M189.5,2139.0 L191.0,2140.2 L192.5,2141.5 L194.0,2142.9 L195.5,2144.2 L197.0,2145.7 L198.5,2147.1 L200.0,2148.6 L201.5,2150.1 L203.0,2151.6 L204.5,2153.1 L206.0,2154.6 L207.5,2156.2 L209.0,2157.7 L210.5,2159.2 L212.0,2160.6 L213.5,2162.1 L215.0,2163.5 L216.5,2164.9 L218.0,2166.3 L219.5,2167.6 L221.0,2168.9 L222.5,2170.2 L224.0,2171.4 L225.5,2172.6 L227.0,2173.8 L228.5,2174.8 L230.0,2175.8 L231.5,2176.7 L233.0,2177.6 L234.5,2178.3 L236.0,2178.8 L237.5,2179.3 L239.0,2179.7 L240.5,2180.0 L242.0,2180.2 L243.5,2180.3 L245.0,2180.3 L246.5,2180.2 L248.0,2180.1 L249.5,2179.9 L251.0,2179.6 L252.5,2179.4 L254.0,2179.0 L255.5,2178.7 L257.0,2178.3 L258.5,2178.0 L260.0,2177.6 L261.5,2177.3 L263.0,2176.9 L264.5,2176.6 L266.0,2176.3 L267.5,2176.0 L269.0,2175.8 L270.5,2175.6 L272.0,2175.5 L273.5,2175.5 L275.0,2175.5 L276.5,2175.6 L278.0,2175.7 L279.5,2175.9 L281.0,2176.2 L282.5,2176.5 L284.0,2176.8 L285.5,2177.2 L287.0,2177.6 L288.5,2178.1 L290.0,2178.6 L291.5,2179.1 L293.0,2179.6 L294.5,2180.2 L296.0,2180.7 L297.5,2181.3 L299.0,2181.9 L300.5,2182.5 L302.0,2183.1 L303.5,2183.8 L305.0,2184.4 L306.5,2185.0 L308.0,2185.6 L309.5,2186.2 L311.0,2186.9 L312.5,2187.5 L314.0,2188.1 L315.5,2188.6 L317.0,2189.2 L318.5,2189.8 L320.0,2190.4 L321.5,2191.0 L323.0,2191.6 L324.5,2192.2 L326.0,2192.9 L327.5,2193.6 L329.0,2194.4 L330.5,2195.2 L332.0,2196.1 L333.5,2197.0 L335.0,2198.0 L336.5,2199.1 L338.0,2200.3 L339.5,2201.5 L341.0,2202.7 L342.5,2204.0 L344.0,2205.3 L345.5,2206.7 L347.0,2208.0 L348.5,2209.4 L350.0,2210.7 L351.5,2212.1 L353.0,2213.4 L354.5,2214.7 L356.0,2215.9 L357.5,2217.2 L359.0,2218.3 L360.5,2219.4 L362.0,2220.4 L363.5,2221.3 L365.0,2222.1 L366.5,2222.8 L368.0,2223.3 L369.5,2223.8 L371.0,2224.1 L372.5,2224.2 L374.0,2224.3 L375.5,2224.2 L377.0,2224.0 L378.5,2223.8 L380.0,2223.4 L381.5,2223.0 L383.0,2222.6 L384.5,2222.1 L386.0,2221.6 L387.5,2221.2 L389.0,2220.7 L390.5,2220.2 L392.0,2219.8 L393.5,2219.4 L395.0,2219.0 L396.5,2218.7 L398.0,2218.4 L399.5,2218.1 L401.0,2217.9 L402.5,2217.7 L404.0,2217.6 L405.5,2217.5 L407.0,2217.3 L408.5,2217.3 L410.0,2217.2 L411.5,2217.2 L413.0,2217.2 L414.5,2217.2 L416.0,2217.3 L417.5,2217.4 L419.0,2217.5 L420.5,2217.8 L422.0,2218.1 L423.5,2218.5 L425.0,2219.0 L426.5,2219.6 L428.0,2220.2 L429.5,2221.0 L431.0,2222.0 L432.5,2223.0 L434.0,2224.2 L435.5,2225.4 L437.0,2226.8 L438.5,2228.3 L440.0,2229.8 L441.5,2231.4 L443.0,2233.0 L444.5,2234.6 L446.0,2236.3 L447.5,2237.9 L449.0,2239.6 L450.5,2241.2 L452.0,2242.7 L453.5,2244.2 L455.0,2245.6 L456.5,2247.0 L458.0,2248.2 L459.5,2249.5 L461.0,2250.6 L462.5,2251.7 L464.0,2252.8 L465.5,2253.9 L467.0,2254.8 L468.5,2255.8 L470.0,2256.8 L471.5,2257.7 L473.0,2258.6 L474.5,2259.5 L476.0,2260.3 L477.5,2261.2 L479.0,2262.1 L480.5,2263.0 L482.0,2263.9 L483.5,2264.8 L485.0,2265.7 L486.5,2266.6 L488.0,2267.5 L489.5,2268.3 L491.0,2269.2 L492.5,2270.1 L494.0,2270.9 L495.5,2271.7 L497.0,2272.4 L498.5,2273.2 L500.0,2273.9 L501.5,2274.5 L503.0,2275.2 L504.5,2275.7 L506.0,2276.2 L507.5,2276.7 L509.0,2277.1 L510.5,2277.4 L512.0,2277.6 L513.5,2277.8 L515.0,2277.9 L516.5,2278.0 L518.0,2277.9 L519.5,2277.8 L521.0,2277.5 L522.5,2277.2 L524.0,2276.8 L525.5,2276.2 L527.0,2275.7 L528.5,2275.0 L530.0,2274.3 L531.5,2273.5 L533.0,2272.7 L534.5,2271.8 L536.0,2270.8 L537.5,2269.8 L539.0,2268.8 L540.5,2267.8 L542.0,2266.7 L543.5,2265.6 L545.0,2264.5 L546.5,2263.4 L548.0,2262.3 L549.5,2261.2 L551.0,2260.0 L552.5,2258.9 L554.0,2257.9 L555.5,2256.8 L557.0,2255.7 L558.5,2254.7 L560.0,2253.8 L561.5,2252.8 L563.0,2251.9 L564.5,2251.1 L566.0,2250.3 L567.5,2249.6 L569.0,2248.9 L570.5,2248.3 L572.0,2247.8 L573.5,2247.4 L575.0,2247.0 L576.5,2246.8 L578.0,2246.6 L579.5,2246.5 L581.0,2246.6 L582.5,2246.7 L584.0,2247.0 L585.5,2247.3 L587.0,2247.8 L588.5,2248.3 L590.0,2248.9 L591.5,2249.6 L593.0,2250.3 L594.5,2251.1 L596.0,2251.9 L597.5,2252.7 L599.0,2253.5 L600.5,2254.4 L602.0,2255.2 L603.5,2256.0 L605.0,2256.8 L606.5,2257.5 L608.0,2258.2 L609.5,2258.9 L611.0,2259.5 L612.5,2260.1 L614.0,2260.6 L615.5,2261.0 L617.0,2261.4 L618.5,2261.8 L620.0,2262.1 L621.5,2262.4 L623.0,2262.6 L624.5,2262.7 L626.0,2262.9 L627.5,2262.9 L629.0,2262.9 L630.5,2262.9 L632.0,2262.9 L633.5,2262.8 L635.0,2262.7 L636.5,2262.7 L638.0,2262.6 L639.5,2262.5 L641.0,2262.5 L642.5,2262.5 L644.0,2262.5 L645.5,2262.5 L647.0,2262.6 L648.5,2262.7 L650.0,2262.8 L651.5,2262.9 L653.0,2263.0 L654.5,2263.0 L656.0,2262.9 L657.5,2262.7 L659.0,2262.4 L660.5,2262.0 L662.0,2261.4 L663.5,2260.6 L665.0,2259.7 L666.5,2258.6 L668.0,2257.2 L669.5,2255.7 L671.0,2254.1 L672.5,2252.3 L674.0,2250.5 L675.5,2248.6 L677.0,2246.7 L678.5,2244.7 L680.0,2242.8 L681.5,2240.9 L683.0,2239.0 L684.5,2237.3 L686.0,2235.6 L687.5,2234.0 L689.0,2232.6 L690.5,2231.2 L692.0,2230.0 L693.5,2228.9 L695.0,2227.9 L696.5,2227.0 L698.0,2226.3 L699.5,2225.7 L701.0,2225.3 L702.5,2225.0 L704.0,2224.8 L705.5,2224.8 L707.0,2225.0 L708.5,2225.3 L710.0,2225.7 L711.5,2226.3 L713.0,2227.0 L714.5,2227.8 L716.0,2228.7 L717.5,2229.8 L719.0,2230.9 L720.5,2232.1 L722.0,2233.4 L723.5,2234.8 L725.0,2236.2 L726.5,2237.6 L728.0,2239.0 L729.5,2240.4 L731.0,2241.6 L732.5,2242.8 L734.0,2243.9 L735.5,2244.8 L737.0,2245.5 L738.5,2246.0 L740.0,2246.3 L741.5,2246.3 L743.0,2246.1 L744.5,2245.6 L746.0,2245.0 L747.5,2244.2 L749.0,2243.3 L750.5,2242.2 L752.0,2241.1 L753.5,2239.9 L755.0,2238.7 L756.5,2237.5 L758.0,2236.3 L759.5,2235.1 L761.0,2234.0 L762.5,2233.0 L764.0,2232.0 L765.5,2231.1 L767.0,2230.1 L768.5,2229.3 L770.0,2228.4 L771.5,2227.5 L773.0,2226.7 L774.5,2225.8 L776.0,2225.0 L777.5,2224.1 L779.0,2223.2 L780.5,2222.3 L782.0,2221.3 L783.5,2220.3 L785.0,2219.2 L786.5,2218.0 L788.0,2216.8 L789.5,2215.6 L791.0,2214.2 L792.5,2212.7 L794.0,2211.2 L795.5,2209.6 L797.0,2208.0 L798.5,2206.3 L800.0,2204.6 L801.5,2202.8 L803.0,2201.1 L804.5,2199.4 L806.0,2197.8 L807.5,2196.1 L809.0,2194.6 L810.5,2193.1 L812.0,2191.7 L813.5,2190.4 L815.0,2189.2 L816.5,2188.1 L818.0,2187.2 L819.5,2186.4 L821.0,2185.8 L822.5,2185.3 L824.0,2184.9 L825.5,2184.7 L827.0,2184.5 L828.5,2184.4 L830.0,2184.4 L831.5,2184.5 L833.0,2184.6 L834.5,2184.8 L836.0,2185.0 L837.5,2185.2 L839.0,2185.5 L840.5,2185.9 L842.0,2186.2 L843.5,2186.7 L845.0,2187.1 L846.5,2187.6 L848.0,2188.2 L849.5,2188.8 L851.0,2189.4 L852.5,2190.0 L854.0,2190.7 L855.5,2191.4 L857.0,2192.1 L858.5,2192.9 L860.0,2193.7 L861.5,2194.5 L863.0,2195.3 L864.5,2196.2 L866.0,2197.0 L867.5,2197.9 L869.0,2198.8 L870.5,2199.8 L872.0,2200.7 L873.5,2201.7 L875.0,2202.7 L876.5,2203.7 L878.0,2204.7 L879.5,2205.7 L881.0,2206.8 L882.5,2207.9 L884.0,2209.0 L885.5,2210.2 L887.0,2211.4 L888.5,2212.6 L890.0,2213.9 L891.5,2215.2 L893.0,2216.5 L894.5,2217.9 L896.0,2219.4 L897.5,2220.9 L899.0,2222.4 L900.5,2224.0 L902.0,2225.7 L903.5,2227.3 L905.0,2229.1 L906.5,2230.8 L908.0,2232.6 L909.5,2234.5 L911.0,2236.3 L912.5,2238.2 L914.0,2240.0 L915.5,2241.9 L917.0,2243.8 L918.5,2245.7 L920.0,2247.5 L921.5,2249.4 L923.0,2251.3 L924.5,2253.1 L926.0,2254.9 L927.5,2256.7 L929.0,2258.4 L930.5,2260.1 L932.0,2261.8 L933.5,2263.4 L935.0,2265.0 L936.5,2266.5 L938.0,2267.9 L939.5,2269.2 L941.0,2270.5 L942.5,2271.7 L944.0,2272.8 L945.5,2273.9 L947.0,2274.8 L948.5,2275.6 L950.0,2276.3 L951.5,2276.9 L953.0,2277.4 L954.5,2277.7 L956.0,2278.0 L957.5,2278.1 L959.0,2278.1 L960.5,2278.1 L962.0,2278.0 L963.5,2277.8 L965.0,2277.5 L966.5,2277.2 L968.0,2276.8 L969.5,2276.4 L971.0,2275.9 L972.5,2275.4 L974.0,2274.9 L975.5,2274.4 L977.0,2273.9 L978.5,2273.4 L980.0,2272.9 L981.5,2272.4 L983.0,2271.9 L984.5,2271.4 L986.0,2271.0 L987.5,2270.6 L989.0,2270.2 L990.5,2269.8 L992.0,2269.4 L993.5,2269.1 L995.0,2268.7 L996.5,2268.4 L998.0,2268.1 L999.5,2267.8 L1001.0,2267.6 L1002.5,2267.3 L1004.0,2267.1 L1005.5,2266.9 L1007.0,2266.8 L1008.5,2266.6 L1010.0,2266.5 L1011.5,2266.4 L1013.0,2266.3 L1014.5,2266.3 L1016.0,2266.3 L1017.5,2266.3 L1019.0,2266.4 L1020.5,2266.5 L1022.0,2266.7 L1023.5,2267.0 L1025.0,2267.3 L1026.5,2267.7 L1028.0,2268.2 L1029.5,2268.8 L1031.0,2269.4 L1032.5,2270.2 L1034.0,2271.1 L1035.5,2272.1 L1037.0,2273.2 L1038.5,2274.3 L1040.0,2275.5 L1041.5,2276.7 L1043.0,2278.0 L1044.5,2279.2 L1046.0,2280.5 L1047.5,2281.8 L1049.0,2283.0 L1050.5,2284.1 L1052.0,2285.2 L1053.5,2286.2 L1055.0,2287.1 L1056.5,2288.0 L1058.0,2288.6 L1059.5,2289.2 L1061.0,2289.6 L1062.5,2289.8 L1064.0,2289.9 L1065.5,2289.9 L1067.0,2289.9 L1068.5,2289.7 L1070.0,2289.5 L1071.5,2289.3 L1073.0,2289.0 L1074.5,2288.7 L1076.0,2288.4 L1077.5,2288.0 L1079.0,2287.7 L1080.5,2287.3 L1082.0,2287.0 L1083.5,2286.7 L1085.0,2286.4 L1086.5,2286.1 L1088.0,2285.8 L1089.5,2285.6 L1091.0,2285.4 L1092.5,2285.2 L1094.0,2285.1 L1095.5,2285.0 L1097.0,2285.0 L1098.5,2284.9 L1100.0,2284.9 L1101.5,2284.8 L1103.0,2284.7 L1104.5,2284.6 L1106.0,2284.4 L1107.5,2284.2 L1109.0,2284.0 L1110.5,2283.6 L1112.0,2283.2 L1113.5,2282.8 L1115.0,2282.2 L1116.5,2281.6 L1118.0,2280.9 L1119.5,2280.2 L1121.0,2279.5 L1122.5,2278.7 L1124.0,2277.8 L1125.5,2277.0 L1127.0,2276.1 L1128.5,2275.2 L1130.0,2274.4 L1131.5,2273.5 L1133.0,2272.6 L1134.5,2271.8 L1136.0,2271.0 L1137.5,2270.1 L1139.0,2269.3 L1140.5,2268.4 L1142.0,2267.5 L1143.5,2266.5 L1145.0,2265.5 L1146.5,2264.5 L1148.0,2263.3 L1149.5,2262.1 L1151.0,2260.8 L1152.5,2259.3 L1154.0,2257.8 L1155.5,2256.1 L1157.0,2254.3 L1158.5,2252.4 L1160.0,2250.5 L1161.5,2248.4 L1163.0,2246.3 L1164.5,2244.1 L1166.0,2241.8 L1167.5,2239.6 L1169.0,2237.2 L1170.5,2234.9 L1172.0,2232.5 L1173.5,2230.2 L1175.0,2227.8 L1176.5,2225.5 L1178.0,2223.3 L1179.5,2221.2 L1181.0,2219.1 L1182.5,2217.1 L1184.0,2215.3 L1185.5,2213.7 L1187.0,2212.1 L1188.5,2210.7 L1190.0,2209.4 L1191.5,2208.2 L1193.0,2207.0 L1194.5,2205.8 L1196.0,2204.7 L1197.5,2203.5 L1199.0,2202.2 L1200.5,2200.9 L1202.0,2199.5 L1203.5,2198.0 L1205.0,2196.4 L1206.5,2194.6 L1208.0,2192.8 L1209.5,2190.9 L1211.0,2188.9 L1212.5,2186.8 L1214.0,2184.5 L1215.5,2182.2 L1217.0,2179.7 L1218.5,2177.2 L1220.0,2174.5 L1221.5,2171.8 L1223.0,2168.9 L1224.5,2166.1 L1226.0,2163.2 L1227.5,2160.2 L1229.0,2157.3 L1230.5,2154.4 L1232.0,2151.4 L1233.5,2148.5 L1235.0,2145.7 L1236.5,2142.8 L1238.0,2140.0 L1239.5,2137.1 L1241.0,2134.2 L1242.5,2131.2 L1244.0,2128.1 L1245.5,2125.0 L1247.0,2121.7 L1248.5,2118.2 L1250.0,2114.7 L1251.5,2111.0 L1253.0,2107.3 L1254.5,2103.5 L1256.0,2099.7 L1257.5,2096.0 L1259.0,2092.3 L1260.5,2088.7 L1262.0,2085.3 L1263.5,2081.9 L1265.0,2078.8 L1266.5,2075.9 L1268.0,2073.1 L1269.5,2070.6 L1271.0,2068.3 L1272.5,2066.2 L1274.0,2064.4 L1275.5,2062.9 L1277.0,2061.6 L1278.5,2060.6 L1280.0,2060.0 L1281.5,2059.6 L1283.0,2059.6 L1284.5,2059.9 L1286.0,2060.4 L1287.5,2061.3 L1289.0,2062.4 L1290.5,2063.8 L1292.0,2065.3 L1293.5,2067.1 L1295.0,2069.1 L1296.5,2071.3 L1298.0,2073.6 L1299.5,2076.1 L1301.0,2078.6 L1302.5,2081.3 L1304.0,2083.9 L1305.5,2086.7 L1307.0,2089.4 L1308.5,2092.1 L1310.0,2094.7 L1311.5,2097.2 L1313.0,2099.7 L1314.5,2102.2 L1316.0,2104.6 L1317.5,2107.0 L1319.0,2109.5 L1320.5,2112.1 L1322.0,2114.8 L1323.5,2117.6 L1325.0,2120.5 L1326.5,2123.6 L1328.0,2126.9 L1329.5,2130.2 L1331.0,2133.6 L1332.5,2137.0 L1334.0,2140.4 L1335.5,2143.6 L1337.0,2146.8 L1338.5,2149.7 L1340.0,2152.5 L1341.5,2155.0 L1343.0,2157.3 L1344.5,2159.3 L1346.0,2161.2 L1347.5,2162.9 L1349.0,2164.3 L1350.5,2165.7 L1352.0,2166.8 L1353.5,2167.9 L1355.0,2168.8 L1356.5,2169.6 L1358.0,2170.3 L1359.5,2170.9 L1361.0,2171.6 L1362.5,2172.2 L1364.0,2172.8 L1365.5,2173.5 L1367.0,2174.3 L1368.5,2175.1 L1370.0,2176.1 L1371.5,2177.2 L1373.0,2178.4 L1374.5,2179.8 L1376.0,2181.4 L1377.5,2183.1 L1379.0,2184.9 L1380.5,2186.8 L1382.0,2188.9 L1383.5,2191.1 L1385.0,2193.4 L1386.5,2195.8 L1388.0,2198.3 L1389.5,2200.8 L1391.0,2203.4 L1392.5,2206.0 L1394.0,2208.5 L1395.5,2210.8 L1397.0,2213.0 L1398.5,2215.0 L1400.0,2216.7 L1401.5,2218.0 L1403.0,2219.0 L1404.5,2219.6 L1406.0,2219.8 L1407.5,2219.9 L1409.0,2219.7 L1410.5,2219.4 L1412.0,2219.1 L1413.5,2218.7 L1415.0,2218.3 L1416.5,2218.0 L1418.0,2217.6 L1419.5,2217.2 L1421.0,2216.9 L1422.5,2216.7 L1424.0,2216.5 L1425.5,2216.5 L1427.0,2216.5 L1428.5,2216.7 L1430.0,2217.0 L1431.5,2217.4 L1433.0,2218.0 L1434.5,2218.6 L1436.0,2219.3 L1437.5,2220.0 L1439.0,2220.7 L1440.5,2221.4 L1442.0,2222.2 L1443.5,2222.8 L1445.0,2223.4 L1446.5,2223.9 L1448.0,2224.2 L1449.5,2224.5 L1451.0,2224.5 L1452.5,2224.4 L1454.0,2224.0 L1455.5,2223.3 L1457.0,2222.3 L1458.5,2221.0 L1460.0,2219.5 L1461.5,2217.6 L1463.0,2215.6 L1464.5,2213.5 L1466.0,2211.2 L1467.5,2208.9 L1469.0,2206.5 L1470.5,2204.2 L1472.0,2202.0 L1473.5,2200.0 L1475.0,2198.1 L1476.5,2196.5 L1478.0,2195.1 L1479.5,2193.9 L1481.0,2192.8 L1482.5,2192.0 L1484.0,2191.2 L1485.5,2190.5 L1487.0,2189.9 L1488.5,2189.4 L1490.0,2188.9 L1491.5,2188.3 L1493.0,2187.8 L1494.5,2187.2 L1496.0,2186.6 L1497.5,2185.9 L1499.0,2185.1 L1500.5,2184.2 L1502.0,2183.2 L1503.5,2182.1 L1505.0,2180.8 L1506.5,2179.3 L1508.0,2177.6 L1509.5,2175.8 L1511.0,2173.7 L1512.5,2171.4 L1514.0,2169.0 L1515.5,2166.3 L1517.0,2163.5 L1518.5,2160.4 L1520.0,2157.2 L1521.5,2153.8 L1523.0,2150.2 L1524.5,2146.5 L1526.0,2142.6 L1527.5,2138.5 L1529.0,2134.4 L1530.5,2130.1 L1532.0,2125.8 L1533.5,2121.4 L1535.0,2117.0 L1536.5,2112.6 L1538.0,2108.4 L1539.5,2104.3 L1541.0,2100.5 L1542.5,2097.0 L1544.0,2094.0 L1545.5,2091.6 L1547.0,2089.8 L1548.5,2088.5 L1550.0,2087.6 L1551.5,2087.1 L1553.0,2086.9 L1554.5,2087.0 L1556.0,2087.3 L1557.5,2088.1 L1559.0,2089.4 L1560.5,2091.2 L1562.0,2093.7 L1563.5,2097.0 L1565.0,2101.0 L1566.5,2105.8 L1568.0,2111.2 L1569.5,2117.1 L1571.0,2123.5 L1572.5,2130.3 L1574.0,2137.4 L1575.5,2144.9 L1577.0,2152.9 L1578.5,2161.3 L1580.0,2170.2 L1581.5,2179.6 L1583.0,2189.5 L1584.5,2199.4 L1586.0,2209.2 L1587.5,2218.3 L1589.0,2226.6 L1590.5,2233.9 L1592.0,2240.3 L1593.5,2246.0 L1595.0,2251.0 L1596.5,2255.6 L1598.0,2259.7 L1599.5,2263.5 L1601.0,2267.0 L1602.5,2270.1 L1604.0,2273.0 L1605.5,2275.7 L1607.0,2278.2 L1608.5,2280.5 L1610.0,2282.7 L1611.5,2284.7 L1613.0,2286.6 L1614.5,2288.5 L1616.0,2290.2 L1617.5,2291.9 L1619.0,2293.4 L1620.5,2295.0 L1622.0,2296.4 L1623.5,2297.8 L1625.0,2299.2 L1626.5,2300.5 L1628.0,2301.8 L1629.5,2303.0 L1631.0,2304.1 L1632.5,2305.1 L1634.0,2306.1 L1635.5,2306.9 L1637.0,2307.6 L1638.5,2308.1 L1640.0,2308.5 L1641.5,2308.8 L1643.0,2308.9 L1644.5,2309.0 L1646.0,2308.9 L1647.5,2308.8 L1649.0,2308.7 L1650.5,2308.5 L1652.0,2308.2 L1653.5,2308.0 L1655.0,2307.7 L1656.5,2307.5 L1658.0,2307.3 L1659.5,2307.1 L1661.0,2307.0 L1662.5,2307.0 L1664.0,2307.1 L1665.5,2307.3 L1667.0,2307.5 L1668.5,2307.9 L1670.0,2308.3 L1671.5,2308.8 L1673.0,2309.4 L1674.5,2309.9 L1676.0,2310.5 L1677.5,2311.1 L1679.0,2311.6 L1680.5,2312.1 L1682.0,2312.5 L1683.5,2312.8 L1685.0,2313.1 L1686.5,2313.4 L1688.0,2313.6 L1689.5,2313.7 L1691.0,2313.8 L1692.5,2313.9 L1694.0,2313.9 L1695.5,2313.9 L1697.0,2313.8 L1698.5,2313.7 L1700.0,2313.6 L1701.5,2313.4 L1703.0,2313.2 L1704.5,2313.0 L1706.0,2312.8 L1707.5,2312.6 L1709.0,2312.3 L1710.5,2312.0 L1712.0,2311.8 L1713.5,2311.5 L1715.0,2311.3 L1716.5,2311.1 L1718.0,2310.9 L1719.5,2310.8 L1721.0,2310.8 L1722.5,2310.8 L1724.0,2310.8 L1725.5,2311.0 L1727.0,2311.2 L1728.5,2311.6 L1730.0,2312.0 L1731.5,2312.6 L1733.0,2313.3 L1734.5,2314.1 L1736.0,2314.9 L1737.5,2315.9 L1739.0,2316.9 L1740.5,2318.0 L1742.0,2319.1 L1743.5,2320.1 L1745.0,2321.2 L1746.5,2322.2 L1748.0,2323.2 L1749.5,2324.1 L1751.0,2324.9 L1752.5,2325.7 L1754.0,2326.3 L1755.5,2326.9 L1757.0,2327.5 L1758.5,2327.9 L1760.0,2328.3 L1761.5,2328.6 L1763.0,2328.9 L1764.5,2329.1 L1766.0,2329.2 L1767.5,2329.4 L1769.0,2329.4 L1770.5,2329.5 L1772.0,2329.4 L1773.5,2329.4 L1775.0,2329.3 L1776.5,2329.1 L1778.0,2329.0 L1779.5,2328.8 L1781.0,2328.5 L1782.5,2328.3 L1784.0,2328.0 L1785.5,2327.6 L1787.0,2327.3 L1788.5,2326.9 L1790.0,2326.5 L1791.5,2326.1 L1793.0,2325.7 L1794.5,2325.2 L1796.0,2324.7 L1797.5,2324.2 L1799.0,2323.8 L1800.5,2323.3 L1802.0,2322.8 L1803.5,2322.3 L1805.0,2321.8 L1806.5,2321.4 L1808.0,2321.0 L1809.5,2320.5 L1811.0,2320.2 L1812.5,2319.8 L1814.0,2319.5 L1815.5,2319.2 L1817.0,2319.0 L1818.5,2318.8 L1820.0,2318.7 L1821.5,2318.6 L1823.0,2318.6 L1824.5,2318.6 L1826.0,2318.8 L1827.5,2318.9 L1829.0,2319.2 L1830.5,2319.5 L1832.0,2319.9 L1833.5,2320.3 L1835.0,2320.8 L1836.5,2321.3 L1838.0,2321.7 L1839.5,2322.2 L1841.0,2322.7 L1842.5,2323.2 L1844.0,2323.6 L1845.5,2324.0 L1847.0,2324.3 L1848.5,2324.6 L1850.0,2324.8 L1851.5,2324.9 L1853.0,2324.9 L1854.5,2324.8 L1856.0,2324.6 L1857.5,2324.4 L1859.0,2324.1 L1860.5,2323.7 L1862.0,2323.2 L1863.5,2322.8 L1865.0,2322.3 L1866.5,2321.8 L1868.0,2321.3 L1869.5,2320.8 L1871.0,2320.4 L1872.5,2320.0 L1874.0,2319.6 L1875.5,2319.3 L1877.0,2319.1 L1878.5,2318.9 L1880.0,2318.9 L1881.5,2318.9 L1883.0,2319.1 L1884.5,2319.3 L1886.0,2319.7 L1887.5,2320.1 L1889.0,2320.6 L1890.5,2321.2 L1892.0,2321.8 L1893.5,2322.5 L1895.0,2323.3 L1896.5,2324.1 L1898.0,2325.0 L1899.5,2325.8 L1901.0,2326.6 L1902.5,2327.3 L1904.0,2328.0 L1905.5,2328.6 L1907.0,2329.0 L1908.5,2329.3 L1910.0,2329.4 L1911.5,2329.4 L1913.0,2329.2 L1914.5,2328.8 L1916.0,2328.3 L1917.5,2327.6 L1919.0,2326.7 L1920.5,2325.6 L1922.0,2324.4 L1923.5,2323.0 L1925.0,2321.4 L1926.5,2319.8 L1928.0,2318.1 L1929.5,2316.4 L1931.0,2314.8 L1932.5,2313.2 L1934.0,2311.9 L1935.5,2310.7 L1937.0,2309.7 L1938.5,2309.0 L1940.0,2308.6 L1941.5,2308.3 L1943.0,2308.2 L1944.5,2308.2 L1946.0,2308.3 L1947.5,2308.5 L1949.0,2308.8 L1950.5,2309.1 L1952.0,2309.3 L1953.5,2309.6 L1955.0,2309.7 L1956.5,2309.8 L1958.0,2309.8 L1959.5,2309.6 L1960.0,2309.5" fill="none" stroke="#000000" stroke-width="7.5" stroke-linejoin="round" stroke-linecap="butt"/>
<line x1="362" y1="1086" x2="300" y2="1168" stroke="#000" stroke-width="10" stroke-linecap="butt"/>
<polygon points="266.5,1222.5 289.5,1154 323,1176.5" fill="#000"/>
<text transform="translate(426.7,248.4) scale(1,1.04)" font-size="62.5" textLength="215.2" lengthAdjust="spacing">658 cm</text>
<text transform="translate(640.6,208.3) scale(1,1.04)" font-size="34.0" fill="#888">−</text>
<text transform="translate(671.0,206.8) scale(1,1.04)" font-size="41.9">1</text>
<text transform="translate(232.0,1074.0) scale(1,1.04)" font-size="62.5" textLength="215.5" lengthAdjust="spacing">369 cm</text>
<text transform="translate(446.6,1032.5) scale(1,1.04)" font-size="34.0" fill="#888">−</text>
<text transform="translate(477.4,1031.5) scale(1,1.04)" font-size="39.8">1</text>
<text transform="translate(1254.2,165.6) scale(1,1.04)" font-size="83.8">D</text>
<text transform="translate(1509.5,165.0) scale(1,1.04)" font-size="85.0">G</text>
<text transform="translate(1266.9,1567.4) scale(1,1.04)" font-size="91.8">D</text>
<text transform="translate(1504.8,1568.0) scale(1,1.04)" font-size="92.0">G</text>
<text transform="translate(0,1020.4) scale(1,1.04)" font-size="74.3"><tspan x="1188.1" y="0.0">Mn</tspan><tspan x="1299.6" y="28.5" font-size="42.5">3</tspan><tspan x="1326.0" y="0.0">O</tspan><tspan x="1386.0" y="28.5" font-size="42.5">4</tspan><tspan x="1409.7" y="0.0" textLength="546.6" lengthAdjust="spacing">/N-rGO aerogel</tspan></text>
<text transform="translate(0,1347.7) scale(1,1.04)" font-size="74.3"><tspan x="1710.0" y="0.0">Mn</tspan><tspan x="1822.7" y="29.1" font-size="42.5">3</tspan><tspan x="1848.3" y="0.0">O</tspan><tspan x="1907.6" y="29.1" font-size="42.5">4</tspan></text>
<text transform="translate(1347.2,1946.9) scale(1,1.04)" font-size="74.3" textLength="597.5" lengthAdjust="spacing">N,S-rGO aerogel</text>
<text transform="translate(1418.8,2442.3) scale(1,1.04)" font-size="74.3" textLength="524.0" lengthAdjust="spacing">N-rGO aerogel</text>
<text transform="translate(342.6,2577.2) scale(1,1.04)" font-size="63.5" textLength="107.0" lengthAdjust="spacing">500</text>
<text transform="translate(842.7,2577.2) scale(1,1.04)" font-size="63.5" textLength="148.9" lengthAdjust="spacing">1000</text>
<text transform="translate(1362.1,2577.2) scale(1,1.04)" font-size="63.5" textLength="151.7" lengthAdjust="spacing">1500</text>
<text transform="translate(1882.4,2577.2) scale(1,1.04)" font-size="63.5" textLength="150.9" lengthAdjust="spacing">2000</text>
<text transform="translate(714.5,2691.2) scale(1,1.04)" font-size="90.0" textLength="713.1" lengthAdjust="spacing">Raman Shift (cm</text>
<text transform="translate(1425.0,2647.2) scale(1,1.04)" font-size="57.0" font-weight="normal" fill="#333">−</text>
<text transform="translate(1470.3,2641.6) scale(1,1.04)" font-size="58.7">1</text>
<text transform="translate(1503.1,2691.2) scale(1,1.04)" font-size="90.0">)</text>
<text transform="translate(126,1600.3) rotate(-90) scale(1,1.04)" font-size="94.0" textLength="600.0" lengthAdjust="spacing">Intensity (a.u)</text>
<rect x="409.5" y="161" width="294" height="1322.5" fill="none" stroke="#474747" stroke-width="4" stroke-dasharray="11.5 10.2"/>
<rect x="1189.3" y="72.6" width="482.7" height="881.1" fill="none" stroke="#474747" stroke-width="4" stroke-dasharray="11.5 10.2"/>
<rect x="1212" y="1450.5" width="419" height="881" fill="none" stroke="#474747" stroke-width="4" stroke-dasharray="11.5 10.2"/>
<rect x="1100" y="457" width="850" height="91" fill="#fdfdfd"/>
<text transform="translate(0,530.4) scale(1,1.04)" font-size="74.3"><tspan x="1105.0" y="0.0">Mn</tspan><tspan x="1218.4" y="28.5" font-size="42.5">3</tspan><tspan x="1242.7" y="0.0">O</tspan><tspan x="1301.2" y="28.5" font-size="42.5">4</tspan><tspan x="1328.3" y="0.0" textLength="619.2" lengthAdjust="spacing">/N,S-rGO aerogel</tspan></text>
</svg></body></html>
